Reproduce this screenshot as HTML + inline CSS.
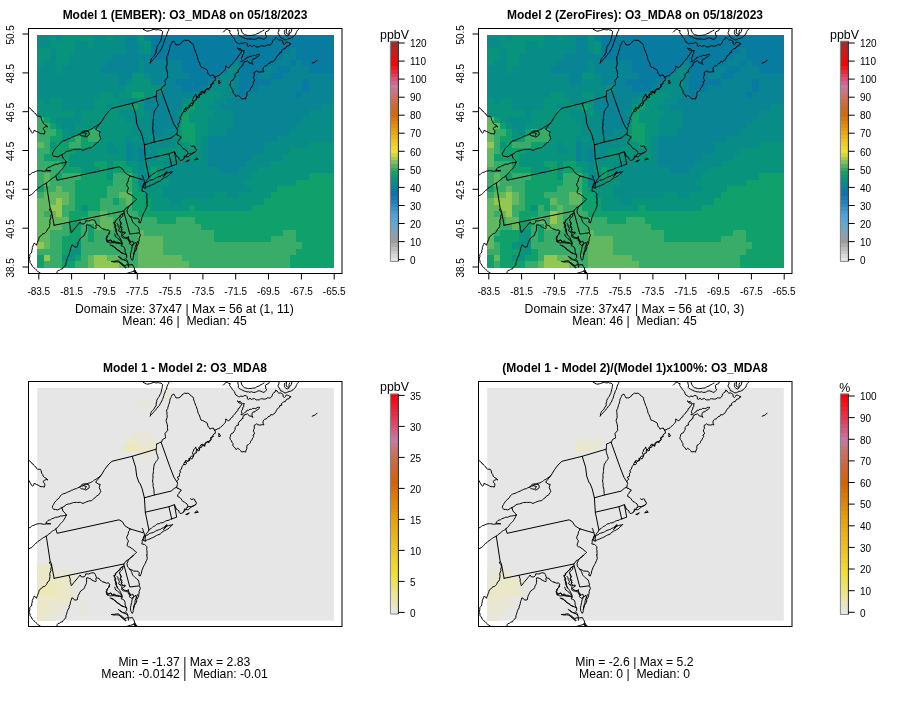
<!DOCTYPE html>
<html><head><meta charset="utf-8"><title>O3_MDA8 model comparison</title>
<style>
html,body{margin:0;padding:0;background:#fff;}
svg{display:block;font-family:"Liberation Sans",sans-serif;}
</style></head><body>
<svg width="900" height="706" viewBox="0 0 900 706">
<rect width="900" height="706" fill="#fff"/>
<g shape-rendering="crispEdges"><rect x="37.20" y="35.00" width="12.92" height="6.59" fill="#088c88"/><rect x="49.82" y="35.00" width="6.61" height="6.59" fill="#08947c"/><rect x="56.13" y="35.00" width="6.61" height="6.59" fill="#088c88"/><rect x="62.44" y="35.00" width="31.85" height="6.59" fill="#08947c"/><rect x="94.00" y="35.00" width="12.92" height="6.59" fill="#088c88"/><rect x="106.62" y="35.00" width="6.61" height="6.59" fill="#08947c"/><rect x="112.93" y="35.00" width="12.92" height="6.59" fill="#088c88"/><rect x="125.55" y="35.00" width="12.92" height="6.59" fill="#088494"/><rect x="138.17" y="35.00" width="6.61" height="6.59" fill="#08947c"/><rect x="144.48" y="35.00" width="6.61" height="6.59" fill="#088494"/><rect x="150.79" y="35.00" width="183.31" height="6.59" fill="#087ca0"/><rect x="37.20" y="41.29" width="12.92" height="6.59" fill="#088c88"/><rect x="49.82" y="41.29" width="25.54" height="6.59" fill="#08947c"/><rect x="75.06" y="41.29" width="12.92" height="6.59" fill="#088c88"/><rect x="87.69" y="41.29" width="6.61" height="6.59" fill="#08947c"/><rect x="94.00" y="41.29" width="31.85" height="6.59" fill="#088c88"/><rect x="125.55" y="41.29" width="12.92" height="6.59" fill="#088494"/><rect x="138.17" y="41.29" width="6.61" height="6.59" fill="#088c88"/><rect x="144.48" y="41.29" width="6.61" height="6.59" fill="#08947c"/><rect x="150.79" y="41.29" width="183.31" height="6.59" fill="#087ca0"/><rect x="37.20" y="47.57" width="12.92" height="6.59" fill="#08947c"/><rect x="49.82" y="47.57" width="6.61" height="6.59" fill="#088c88"/><rect x="56.13" y="47.57" width="19.23" height="6.59" fill="#08947c"/><rect x="75.06" y="47.57" width="50.79" height="6.59" fill="#088c88"/><rect x="125.55" y="47.57" width="12.92" height="6.59" fill="#088494"/><rect x="138.17" y="47.57" width="6.61" height="6.59" fill="#088c88"/><rect x="144.48" y="47.57" width="6.61" height="6.59" fill="#08947c"/><rect x="150.79" y="47.57" width="139.13" height="6.59" fill="#087ca0"/><rect x="289.63" y="47.57" width="6.61" height="6.59" fill="#088494"/><rect x="295.94" y="47.57" width="38.16" height="6.59" fill="#087ca0"/><rect x="37.20" y="53.86" width="12.92" height="6.59" fill="#08947c"/><rect x="49.82" y="53.86" width="6.61" height="6.59" fill="#088c88"/><rect x="56.13" y="53.86" width="12.92" height="6.59" fill="#08947c"/><rect x="68.75" y="53.86" width="44.47" height="6.59" fill="#088c88"/><rect x="112.93" y="53.86" width="38.16" height="6.59" fill="#088494"/><rect x="150.79" y="53.86" width="132.82" height="6.59" fill="#087ca0"/><rect x="283.31" y="53.86" width="12.92" height="6.59" fill="#088494"/><rect x="295.94" y="53.86" width="38.16" height="6.59" fill="#087ca0"/><rect x="37.20" y="60.15" width="6.61" height="6.59" fill="#08947c"/><rect x="43.51" y="60.15" width="12.92" height="6.59" fill="#088c88"/><rect x="56.13" y="60.15" width="12.92" height="6.59" fill="#08947c"/><rect x="68.75" y="60.15" width="38.16" height="6.59" fill="#088c88"/><rect x="106.62" y="60.15" width="31.85" height="6.59" fill="#088494"/><rect x="138.17" y="60.15" width="6.61" height="6.59" fill="#088c88"/><rect x="144.48" y="60.15" width="38.16" height="6.59" fill="#088494"/><rect x="182.34" y="60.15" width="50.79" height="6.59" fill="#087ca0"/><rect x="232.83" y="60.15" width="6.61" height="6.59" fill="#088494"/><rect x="239.14" y="60.15" width="38.16" height="6.59" fill="#087ca0"/><rect x="277.00" y="60.15" width="12.92" height="6.59" fill="#088494"/><rect x="289.63" y="60.15" width="6.61" height="6.59" fill="#087ca0"/><rect x="295.94" y="60.15" width="6.61" height="6.59" fill="#088494"/><rect x="302.25" y="60.15" width="31.85" height="6.59" fill="#087ca0"/><rect x="37.20" y="66.43" width="19.23" height="6.59" fill="#088c88"/><rect x="56.13" y="66.43" width="6.61" height="6.59" fill="#08947c"/><rect x="62.44" y="66.43" width="38.16" height="6.59" fill="#088c88"/><rect x="100.31" y="66.43" width="38.16" height="6.59" fill="#088494"/><rect x="138.17" y="66.43" width="6.61" height="6.59" fill="#088c88"/><rect x="144.48" y="66.43" width="38.16" height="6.59" fill="#088494"/><rect x="182.34" y="66.43" width="44.47" height="6.59" fill="#087ca0"/><rect x="226.52" y="66.43" width="12.92" height="6.59" fill="#088c88"/><rect x="239.14" y="66.43" width="25.54" height="6.59" fill="#087ca0"/><rect x="264.38" y="66.43" width="12.92" height="6.59" fill="#088494"/><rect x="277.00" y="66.43" width="12.92" height="6.59" fill="#087ca0"/><rect x="289.63" y="66.43" width="19.23" height="6.59" fill="#088494"/><rect x="308.56" y="66.43" width="25.54" height="6.59" fill="#087ca0"/><rect x="37.20" y="72.72" width="82.34" height="6.59" fill="#088c88"/><rect x="119.24" y="72.72" width="12.92" height="6.59" fill="#088494"/><rect x="131.86" y="72.72" width="12.92" height="6.59" fill="#08947c"/><rect x="144.48" y="72.72" width="6.61" height="6.59" fill="#088c88"/><rect x="150.79" y="72.72" width="38.16" height="6.59" fill="#088494"/><rect x="188.66" y="72.72" width="31.85" height="6.59" fill="#087ca0"/><rect x="220.21" y="72.72" width="12.92" height="6.59" fill="#088c88"/><rect x="232.83" y="72.72" width="6.61" height="6.59" fill="#088494"/><rect x="239.14" y="72.72" width="19.23" height="6.59" fill="#087ca0"/><rect x="258.07" y="72.72" width="12.92" height="6.59" fill="#088494"/><rect x="270.69" y="72.72" width="12.92" height="6.59" fill="#087ca0"/><rect x="283.31" y="72.72" width="50.79" height="6.59" fill="#088494"/><rect x="37.20" y="79.01" width="82.34" height="6.59" fill="#088c88"/><rect x="119.24" y="79.01" width="6.61" height="6.59" fill="#088494"/><rect x="125.55" y="79.01" width="6.61" height="6.59" fill="#088c88"/><rect x="131.86" y="79.01" width="19.23" height="6.59" fill="#08947c"/><rect x="150.79" y="79.01" width="25.54" height="6.59" fill="#088494"/><rect x="176.03" y="79.01" width="31.85" height="6.59" fill="#087ca0"/><rect x="207.59" y="79.01" width="6.61" height="6.59" fill="#088494"/><rect x="213.90" y="79.01" width="19.23" height="6.59" fill="#088c88"/><rect x="232.83" y="79.01" width="6.61" height="6.59" fill="#088494"/><rect x="239.14" y="79.01" width="31.85" height="6.59" fill="#087ca0"/><rect x="270.69" y="79.01" width="31.85" height="6.59" fill="#088494"/><rect x="302.25" y="79.01" width="6.61" height="6.59" fill="#087ca0"/><rect x="308.56" y="79.01" width="25.54" height="6.59" fill="#088494"/><rect x="37.20" y="85.29" width="88.65" height="6.59" fill="#088c88"/><rect x="125.55" y="85.29" width="38.16" height="6.59" fill="#08947c"/><rect x="163.41" y="85.29" width="19.23" height="6.59" fill="#088494"/><rect x="182.34" y="85.29" width="19.23" height="6.59" fill="#087ca0"/><rect x="201.28" y="85.29" width="6.61" height="6.59" fill="#088494"/><rect x="207.59" y="85.29" width="25.54" height="6.59" fill="#088c88"/><rect x="232.83" y="85.29" width="6.61" height="6.59" fill="#088494"/><rect x="239.14" y="85.29" width="19.23" height="6.59" fill="#087ca0"/><rect x="258.07" y="85.29" width="44.47" height="6.59" fill="#088494"/><rect x="302.25" y="85.29" width="6.61" height="6.59" fill="#087ca0"/><rect x="308.56" y="85.29" width="25.54" height="6.59" fill="#088494"/><rect x="37.20" y="91.58" width="63.41" height="6.59" fill="#088c88"/><rect x="100.31" y="91.58" width="12.92" height="6.59" fill="#08947c"/><rect x="112.93" y="91.58" width="6.61" height="6.59" fill="#088c88"/><rect x="119.24" y="91.58" width="12.92" height="6.59" fill="#08947c"/><rect x="131.86" y="91.58" width="12.92" height="6.59" fill="#10a06c"/><rect x="144.48" y="91.58" width="12.92" height="6.59" fill="#08947c"/><rect x="157.10" y="91.58" width="38.16" height="6.59" fill="#088494"/><rect x="194.97" y="91.58" width="6.61" height="6.59" fill="#088c88"/><rect x="201.28" y="91.58" width="19.23" height="6.59" fill="#08947c"/><rect x="220.21" y="91.58" width="12.92" height="6.59" fill="#088c88"/><rect x="232.83" y="91.58" width="6.61" height="6.59" fill="#088494"/><rect x="239.14" y="91.58" width="6.61" height="6.59" fill="#087ca0"/><rect x="245.45" y="91.58" width="50.79" height="6.59" fill="#088494"/><rect x="295.94" y="91.58" width="6.61" height="6.59" fill="#087ca0"/><rect x="302.25" y="91.58" width="31.85" height="6.59" fill="#088494"/><rect x="37.20" y="97.86" width="6.61" height="6.59" fill="#08947c"/><rect x="43.51" y="97.86" width="6.61" height="6.59" fill="#088c88"/><rect x="49.82" y="97.86" width="12.92" height="6.59" fill="#08947c"/><rect x="62.44" y="97.86" width="31.85" height="6.59" fill="#088c88"/><rect x="94.00" y="97.86" width="25.54" height="6.59" fill="#08947c"/><rect x="119.24" y="97.86" width="19.23" height="6.59" fill="#088c88"/><rect x="138.17" y="97.86" width="6.61" height="6.59" fill="#08947c"/><rect x="144.48" y="97.86" width="38.16" height="6.59" fill="#088494"/><rect x="182.34" y="97.86" width="6.61" height="6.59" fill="#088c88"/><rect x="188.66" y="97.86" width="25.54" height="6.59" fill="#08947c"/><rect x="213.90" y="97.86" width="12.92" height="6.59" fill="#088c88"/><rect x="226.52" y="97.86" width="107.58" height="6.59" fill="#088494"/><rect x="37.20" y="104.15" width="25.54" height="6.59" fill="#08947c"/><rect x="62.44" y="104.15" width="31.85" height="6.59" fill="#088c88"/><rect x="94.00" y="104.15" width="12.92" height="6.59" fill="#08947c"/><rect x="106.62" y="104.15" width="6.61" height="6.59" fill="#088c88"/><rect x="112.93" y="104.15" width="19.23" height="6.59" fill="#08947c"/><rect x="131.86" y="104.15" width="6.61" height="6.59" fill="#10a06c"/><rect x="138.17" y="104.15" width="6.61" height="6.59" fill="#08947c"/><rect x="144.48" y="104.15" width="38.16" height="6.59" fill="#088494"/><rect x="182.34" y="104.15" width="6.61" height="6.59" fill="#08947c"/><rect x="188.66" y="104.15" width="6.61" height="6.59" fill="#10a06c"/><rect x="194.97" y="104.15" width="12.92" height="6.59" fill="#08947c"/><rect x="207.59" y="104.15" width="12.92" height="6.59" fill="#088c88"/><rect x="220.21" y="104.15" width="101.27" height="6.59" fill="#088494"/><rect x="321.18" y="104.15" width="12.92" height="6.59" fill="#088c88"/><rect x="37.20" y="110.44" width="38.16" height="6.59" fill="#08947c"/><rect x="75.06" y="110.44" width="6.61" height="6.59" fill="#088c88"/><rect x="81.37" y="110.44" width="38.16" height="6.59" fill="#08947c"/><rect x="119.24" y="110.44" width="19.23" height="6.59" fill="#088c88"/><rect x="138.17" y="110.44" width="6.61" height="6.59" fill="#08947c"/><rect x="144.48" y="110.44" width="6.61" height="6.59" fill="#088c88"/><rect x="150.79" y="110.44" width="25.54" height="6.59" fill="#088494"/><rect x="176.03" y="110.44" width="6.61" height="6.59" fill="#088c88"/><rect x="182.34" y="110.44" width="6.61" height="6.59" fill="#10a06c"/><rect x="188.66" y="110.44" width="25.54" height="6.59" fill="#08947c"/><rect x="213.90" y="110.44" width="19.23" height="6.59" fill="#088c88"/><rect x="232.83" y="110.44" width="76.03" height="6.59" fill="#088494"/><rect x="308.56" y="110.44" width="25.54" height="6.59" fill="#088c88"/><rect x="37.20" y="116.72" width="6.61" height="6.59" fill="#38ac68"/><rect x="43.51" y="116.72" width="6.61" height="6.59" fill="#10a06c"/><rect x="49.82" y="116.72" width="6.61" height="6.59" fill="#08947c"/><rect x="56.13" y="116.72" width="25.54" height="6.59" fill="#088c88"/><rect x="81.37" y="116.72" width="44.47" height="6.59" fill="#08947c"/><rect x="125.55" y="116.72" width="25.54" height="6.59" fill="#088c88"/><rect x="150.79" y="116.72" width="31.85" height="6.59" fill="#088494"/><rect x="182.34" y="116.72" width="6.61" height="6.59" fill="#10a06c"/><rect x="188.66" y="116.72" width="19.23" height="6.59" fill="#08947c"/><rect x="207.59" y="116.72" width="25.54" height="6.59" fill="#088c88"/><rect x="232.83" y="116.72" width="69.72" height="6.59" fill="#088494"/><rect x="302.25" y="116.72" width="31.85" height="6.59" fill="#088c88"/><rect x="37.20" y="123.01" width="12.92" height="6.59" fill="#38ac68"/><rect x="49.82" y="123.01" width="6.61" height="6.59" fill="#10a06c"/><rect x="56.13" y="123.01" width="6.61" height="6.59" fill="#08947c"/><rect x="62.44" y="123.01" width="12.92" height="6.59" fill="#088c88"/><rect x="75.06" y="123.01" width="57.10" height="6.59" fill="#08947c"/><rect x="131.86" y="123.01" width="19.23" height="6.59" fill="#088c88"/><rect x="150.79" y="123.01" width="25.54" height="6.59" fill="#088494"/><rect x="176.03" y="123.01" width="6.61" height="6.59" fill="#08947c"/><rect x="182.34" y="123.01" width="12.92" height="6.59" fill="#10a06c"/><rect x="194.97" y="123.01" width="12.92" height="6.59" fill="#08947c"/><rect x="207.59" y="123.01" width="25.54" height="6.59" fill="#088c88"/><rect x="232.83" y="123.01" width="63.41" height="6.59" fill="#088494"/><rect x="295.94" y="123.01" width="38.16" height="6.59" fill="#088c88"/><rect x="37.20" y="129.30" width="19.23" height="6.59" fill="#38ac68"/><rect x="56.13" y="129.30" width="6.61" height="6.59" fill="#10a06c"/><rect x="62.44" y="129.30" width="6.61" height="6.59" fill="#08947c"/><rect x="68.75" y="129.30" width="6.61" height="6.59" fill="#088c88"/><rect x="75.06" y="129.30" width="6.61" height="6.59" fill="#08947c"/><rect x="81.37" y="129.30" width="6.61" height="6.59" fill="#10a06c"/><rect x="87.69" y="129.30" width="12.92" height="6.59" fill="#38ac68"/><rect x="100.31" y="129.30" width="31.85" height="6.59" fill="#08947c"/><rect x="131.86" y="129.30" width="19.23" height="6.59" fill="#088c88"/><rect x="150.79" y="129.30" width="12.92" height="6.59" fill="#088494"/><rect x="163.41" y="129.30" width="12.92" height="6.59" fill="#088c88"/><rect x="176.03" y="129.30" width="6.61" height="6.59" fill="#08947c"/><rect x="182.34" y="129.30" width="12.92" height="6.59" fill="#10a06c"/><rect x="194.97" y="129.30" width="12.92" height="6.59" fill="#08947c"/><rect x="207.59" y="129.30" width="19.23" height="6.59" fill="#088c88"/><rect x="226.52" y="129.30" width="63.41" height="6.59" fill="#088494"/><rect x="289.63" y="129.30" width="44.47" height="6.59" fill="#088c88"/><rect x="37.20" y="135.58" width="12.92" height="6.59" fill="#38ac68"/><rect x="49.82" y="135.58" width="12.92" height="6.59" fill="#10a06c"/><rect x="62.44" y="135.58" width="6.61" height="6.59" fill="#08947c"/><rect x="68.75" y="135.58" width="6.61" height="6.59" fill="#10a06c"/><rect x="75.06" y="135.58" width="6.61" height="6.59" fill="#38ac68"/><rect x="81.37" y="135.58" width="6.61" height="6.59" fill="#10a06c"/><rect x="87.69" y="135.58" width="12.92" height="6.59" fill="#38ac68"/><rect x="100.31" y="135.58" width="25.54" height="6.59" fill="#08947c"/><rect x="125.55" y="135.58" width="6.61" height="6.59" fill="#088c88"/><rect x="131.86" y="135.58" width="6.61" height="6.59" fill="#08947c"/><rect x="138.17" y="135.58" width="38.16" height="6.59" fill="#088c88"/><rect x="176.03" y="135.58" width="6.61" height="6.59" fill="#08947c"/><rect x="182.34" y="135.58" width="12.92" height="6.59" fill="#10a06c"/><rect x="194.97" y="135.58" width="6.61" height="6.59" fill="#08947c"/><rect x="201.28" y="135.58" width="6.61" height="6.59" fill="#088c88"/><rect x="207.59" y="135.58" width="69.72" height="6.59" fill="#088494"/><rect x="277.00" y="135.58" width="57.10" height="6.59" fill="#088c88"/><rect x="37.20" y="141.87" width="6.61" height="6.59" fill="#62b860"/><rect x="43.51" y="141.87" width="6.61" height="6.59" fill="#38ac68"/><rect x="49.82" y="141.87" width="6.61" height="6.59" fill="#08947c"/><rect x="56.13" y="141.87" width="12.92" height="6.59" fill="#10a06c"/><rect x="68.75" y="141.87" width="12.92" height="6.59" fill="#38ac68"/><rect x="81.37" y="141.87" width="12.92" height="6.59" fill="#10a06c"/><rect x="94.00" y="141.87" width="12.92" height="6.59" fill="#08947c"/><rect x="106.62" y="141.87" width="6.61" height="6.59" fill="#088c88"/><rect x="112.93" y="141.87" width="12.92" height="6.59" fill="#08947c"/><rect x="125.55" y="141.87" width="6.61" height="6.59" fill="#088494"/><rect x="131.86" y="141.87" width="44.47" height="6.59" fill="#088c88"/><rect x="176.03" y="141.87" width="12.92" height="6.59" fill="#08947c"/><rect x="188.66" y="141.87" width="6.61" height="6.59" fill="#10a06c"/><rect x="194.97" y="141.87" width="6.61" height="6.59" fill="#08947c"/><rect x="201.28" y="141.87" width="6.61" height="6.59" fill="#088c88"/><rect x="207.59" y="141.87" width="57.10" height="6.59" fill="#088494"/><rect x="264.38" y="141.87" width="44.47" height="6.59" fill="#088c88"/><rect x="308.56" y="141.87" width="25.54" height="6.59" fill="#08947c"/><rect x="37.20" y="148.16" width="12.92" height="6.59" fill="#38ac68"/><rect x="49.82" y="148.16" width="25.54" height="6.59" fill="#10a06c"/><rect x="75.06" y="148.16" width="31.85" height="6.59" fill="#08947c"/><rect x="106.62" y="148.16" width="12.92" height="6.59" fill="#088c88"/><rect x="119.24" y="148.16" width="6.61" height="6.59" fill="#08947c"/><rect x="125.55" y="148.16" width="6.61" height="6.59" fill="#088494"/><rect x="131.86" y="148.16" width="6.61" height="6.59" fill="#088c88"/><rect x="138.17" y="148.16" width="6.61" height="6.59" fill="#088494"/><rect x="144.48" y="148.16" width="12.92" height="6.59" fill="#088c88"/><rect x="157.10" y="148.16" width="44.47" height="6.59" fill="#08947c"/><rect x="201.28" y="148.16" width="6.61" height="6.59" fill="#088c88"/><rect x="207.59" y="148.16" width="57.10" height="6.59" fill="#088494"/><rect x="264.38" y="148.16" width="25.54" height="6.59" fill="#088c88"/><rect x="289.63" y="148.16" width="44.47" height="6.59" fill="#08947c"/><rect x="37.20" y="154.44" width="6.61" height="6.59" fill="#38ac68"/><rect x="43.51" y="154.44" width="25.54" height="6.59" fill="#10a06c"/><rect x="68.75" y="154.44" width="57.10" height="6.59" fill="#08947c"/><rect x="125.55" y="154.44" width="6.61" height="6.59" fill="#088494"/><rect x="131.86" y="154.44" width="6.61" height="6.59" fill="#088c88"/><rect x="138.17" y="154.44" width="6.61" height="6.59" fill="#088494"/><rect x="144.48" y="154.44" width="12.92" height="6.59" fill="#088c88"/><rect x="157.10" y="154.44" width="44.47" height="6.59" fill="#08947c"/><rect x="201.28" y="154.44" width="6.61" height="6.59" fill="#088c88"/><rect x="207.59" y="154.44" width="44.47" height="6.59" fill="#088494"/><rect x="251.76" y="154.44" width="31.85" height="6.59" fill="#088c88"/><rect x="283.31" y="154.44" width="50.79" height="6.59" fill="#08947c"/><rect x="37.20" y="160.73" width="25.54" height="6.59" fill="#38ac68"/><rect x="62.44" y="160.73" width="6.61" height="6.59" fill="#10a06c"/><rect x="68.75" y="160.73" width="25.54" height="6.59" fill="#08947c"/><rect x="94.00" y="160.73" width="12.92" height="6.59" fill="#10a06c"/><rect x="106.62" y="160.73" width="6.61" height="6.59" fill="#08947c"/><rect x="112.93" y="160.73" width="12.92" height="6.59" fill="#10a06c"/><rect x="125.55" y="160.73" width="12.92" height="6.59" fill="#08947c"/><rect x="138.17" y="160.73" width="6.61" height="6.59" fill="#088c88"/><rect x="144.48" y="160.73" width="19.23" height="6.59" fill="#08947c"/><rect x="163.41" y="160.73" width="44.47" height="6.59" fill="#088c88"/><rect x="207.59" y="160.73" width="38.16" height="6.59" fill="#088494"/><rect x="245.45" y="160.73" width="25.54" height="6.59" fill="#088c88"/><rect x="270.69" y="160.73" width="63.41" height="6.59" fill="#08947c"/><rect x="37.20" y="167.02" width="25.54" height="6.59" fill="#38ac68"/><rect x="62.44" y="167.02" width="19.23" height="6.59" fill="#10a06c"/><rect x="81.37" y="167.02" width="19.23" height="6.59" fill="#08947c"/><rect x="100.31" y="167.02" width="6.61" height="6.59" fill="#10a06c"/><rect x="106.62" y="167.02" width="6.61" height="6.59" fill="#08947c"/><rect x="112.93" y="167.02" width="19.23" height="6.59" fill="#10a06c"/><rect x="131.86" y="167.02" width="6.61" height="6.59" fill="#08947c"/><rect x="138.17" y="167.02" width="6.61" height="6.59" fill="#088c88"/><rect x="144.48" y="167.02" width="6.61" height="6.59" fill="#08947c"/><rect x="150.79" y="167.02" width="6.61" height="6.59" fill="#10a06c"/><rect x="157.10" y="167.02" width="6.61" height="6.59" fill="#08947c"/><rect x="163.41" y="167.02" width="57.10" height="6.59" fill="#088c88"/><rect x="220.21" y="167.02" width="19.23" height="6.59" fill="#088494"/><rect x="239.14" y="167.02" width="19.23" height="6.59" fill="#088c88"/><rect x="258.07" y="167.02" width="76.03" height="6.59" fill="#08947c"/><rect x="37.20" y="173.30" width="6.61" height="6.59" fill="#38ac68"/><rect x="43.51" y="173.30" width="6.61" height="6.59" fill="#62b860"/><rect x="49.82" y="173.30" width="6.61" height="6.59" fill="#38ac68"/><rect x="56.13" y="173.30" width="6.61" height="6.59" fill="#10a06c"/><rect x="62.44" y="173.30" width="19.23" height="6.59" fill="#38ac68"/><rect x="81.37" y="173.30" width="25.54" height="6.59" fill="#10a06c"/><rect x="106.62" y="173.30" width="6.61" height="6.59" fill="#08947c"/><rect x="112.93" y="173.30" width="19.23" height="6.59" fill="#38ac68"/><rect x="131.86" y="173.30" width="6.61" height="6.59" fill="#10a06c"/><rect x="138.17" y="173.30" width="12.92" height="6.59" fill="#088c88"/><rect x="150.79" y="173.30" width="6.61" height="6.59" fill="#10a06c"/><rect x="157.10" y="173.30" width="12.92" height="6.59" fill="#08947c"/><rect x="169.72" y="173.30" width="82.34" height="6.59" fill="#088c88"/><rect x="251.76" y="173.30" width="57.10" height="6.59" fill="#08947c"/><rect x="308.56" y="173.30" width="25.54" height="6.59" fill="#10a06c"/><rect x="37.20" y="179.59" width="6.61" height="6.59" fill="#38ac68"/><rect x="43.51" y="179.59" width="6.61" height="6.59" fill="#62b860"/><rect x="49.82" y="179.59" width="25.54" height="6.59" fill="#38ac68"/><rect x="75.06" y="179.59" width="38.16" height="6.59" fill="#10a06c"/><rect x="112.93" y="179.59" width="19.23" height="6.59" fill="#38ac68"/><rect x="131.86" y="179.59" width="6.61" height="6.59" fill="#10a06c"/><rect x="138.17" y="179.59" width="6.61" height="6.59" fill="#088494"/><rect x="144.48" y="179.59" width="25.54" height="6.59" fill="#08947c"/><rect x="169.72" y="179.59" width="76.03" height="6.59" fill="#088c88"/><rect x="245.45" y="179.59" width="50.79" height="6.59" fill="#08947c"/><rect x="295.94" y="179.59" width="38.16" height="6.59" fill="#10a06c"/><rect x="37.20" y="185.88" width="6.61" height="6.59" fill="#10a06c"/><rect x="43.51" y="185.88" width="12.92" height="6.59" fill="#38ac68"/><rect x="56.13" y="185.88" width="6.61" height="6.59" fill="#62b860"/><rect x="62.44" y="185.88" width="12.92" height="6.59" fill="#38ac68"/><rect x="75.06" y="185.88" width="31.85" height="6.59" fill="#10a06c"/><rect x="106.62" y="185.88" width="25.54" height="6.59" fill="#38ac68"/><rect x="131.86" y="185.88" width="6.61" height="6.59" fill="#10a06c"/><rect x="138.17" y="185.88" width="25.54" height="6.59" fill="#08947c"/><rect x="163.41" y="185.88" width="88.65" height="6.59" fill="#088c88"/><rect x="251.76" y="185.88" width="25.54" height="6.59" fill="#08947c"/><rect x="277.00" y="185.88" width="57.10" height="6.59" fill="#10a06c"/><rect x="37.20" y="192.16" width="6.61" height="6.59" fill="#38ac68"/><rect x="43.51" y="192.16" width="25.54" height="6.59" fill="#62b860"/><rect x="68.75" y="192.16" width="6.61" height="6.59" fill="#38ac68"/><rect x="75.06" y="192.16" width="31.85" height="6.59" fill="#10a06c"/><rect x="106.62" y="192.16" width="12.92" height="6.59" fill="#38ac68"/><rect x="119.24" y="192.16" width="12.92" height="6.59" fill="#62b860"/><rect x="131.86" y="192.16" width="12.92" height="6.59" fill="#10a06c"/><rect x="144.48" y="192.16" width="19.23" height="6.59" fill="#08947c"/><rect x="163.41" y="192.16" width="50.79" height="6.59" fill="#088c88"/><rect x="213.90" y="192.16" width="12.92" height="6.59" fill="#08947c"/><rect x="226.52" y="192.16" width="12.92" height="6.59" fill="#088c88"/><rect x="239.14" y="192.16" width="31.85" height="6.59" fill="#08947c"/><rect x="270.69" y="192.16" width="63.41" height="6.59" fill="#10a06c"/><rect x="37.20" y="198.45" width="19.23" height="6.59" fill="#62b860"/><rect x="56.13" y="198.45" width="6.61" height="6.59" fill="#90c850"/><rect x="62.44" y="198.45" width="6.61" height="6.59" fill="#62b860"/><rect x="68.75" y="198.45" width="6.61" height="6.59" fill="#38ac68"/><rect x="75.06" y="198.45" width="25.54" height="6.59" fill="#10a06c"/><rect x="100.31" y="198.45" width="12.92" height="6.59" fill="#38ac68"/><rect x="112.93" y="198.45" width="6.61" height="6.59" fill="#10a06c"/><rect x="119.24" y="198.45" width="6.61" height="6.59" fill="#38ac68"/><rect x="125.55" y="198.45" width="6.61" height="6.59" fill="#62b860"/><rect x="131.86" y="198.45" width="19.23" height="6.59" fill="#10a06c"/><rect x="150.79" y="198.45" width="19.23" height="6.59" fill="#08947c"/><rect x="169.72" y="198.45" width="12.92" height="6.59" fill="#088c88"/><rect x="182.34" y="198.45" width="82.34" height="6.59" fill="#08947c"/><rect x="264.38" y="198.45" width="69.72" height="6.59" fill="#10a06c"/><rect x="37.20" y="204.74" width="12.92" height="6.59" fill="#62b860"/><rect x="49.82" y="204.74" width="12.92" height="6.59" fill="#90c850"/><rect x="62.44" y="204.74" width="12.92" height="6.59" fill="#38ac68"/><rect x="75.06" y="204.74" width="6.61" height="6.59" fill="#10a06c"/><rect x="81.37" y="204.74" width="6.61" height="6.59" fill="#08947c"/><rect x="87.69" y="204.74" width="12.92" height="6.59" fill="#10a06c"/><rect x="100.31" y="204.74" width="31.85" height="6.59" fill="#38ac68"/><rect x="131.86" y="204.74" width="19.23" height="6.59" fill="#10a06c"/><rect x="150.79" y="204.74" width="38.16" height="6.59" fill="#08947c"/><rect x="188.66" y="204.74" width="6.61" height="6.59" fill="#10a06c"/><rect x="194.97" y="204.74" width="57.10" height="6.59" fill="#08947c"/><rect x="251.76" y="204.74" width="82.34" height="6.59" fill="#10a06c"/><rect x="37.20" y="211.02" width="6.61" height="6.59" fill="#62b860"/><rect x="43.51" y="211.02" width="6.61" height="6.59" fill="#38ac68"/><rect x="49.82" y="211.02" width="6.61" height="6.59" fill="#62b860"/><rect x="56.13" y="211.02" width="6.61" height="6.59" fill="#90c850"/><rect x="62.44" y="211.02" width="6.61" height="6.59" fill="#38ac68"/><rect x="68.75" y="211.02" width="19.23" height="6.59" fill="#10a06c"/><rect x="87.69" y="211.02" width="12.92" height="6.59" fill="#38ac68"/><rect x="100.31" y="211.02" width="6.61" height="6.59" fill="#62b860"/><rect x="106.62" y="211.02" width="31.85" height="6.59" fill="#38ac68"/><rect x="138.17" y="211.02" width="195.93" height="6.59" fill="#10a06c"/><rect x="37.20" y="217.31" width="31.85" height="6.59" fill="#62b860"/><rect x="68.75" y="217.31" width="12.92" height="6.59" fill="#10a06c"/><rect x="81.37" y="217.31" width="6.61" height="6.59" fill="#38ac68"/><rect x="87.69" y="217.31" width="6.61" height="6.59" fill="#62b860"/><rect x="94.00" y="217.31" width="6.61" height="6.59" fill="#38ac68"/><rect x="100.31" y="217.31" width="12.92" height="6.59" fill="#62b860"/><rect x="112.93" y="217.31" width="44.47" height="6.59" fill="#38ac68"/><rect x="157.10" y="217.31" width="19.23" height="6.59" fill="#10a06c"/><rect x="176.03" y="217.31" width="19.23" height="6.59" fill="#38ac68"/><rect x="194.97" y="217.31" width="139.13" height="6.59" fill="#10a06c"/><rect x="37.20" y="223.59" width="25.54" height="6.59" fill="#62b860"/><rect x="62.44" y="223.59" width="6.61" height="6.59" fill="#38ac68"/><rect x="68.75" y="223.59" width="12.92" height="6.59" fill="#10a06c"/><rect x="81.37" y="223.59" width="6.61" height="6.59" fill="#38ac68"/><rect x="87.69" y="223.59" width="6.61" height="6.59" fill="#10a06c"/><rect x="94.00" y="223.59" width="19.23" height="6.59" fill="#62b860"/><rect x="112.93" y="223.59" width="88.65" height="6.59" fill="#38ac68"/><rect x="201.28" y="223.59" width="132.82" height="6.59" fill="#10a06c"/><rect x="37.20" y="229.88" width="12.92" height="6.59" fill="#62b860"/><rect x="49.82" y="229.88" width="19.23" height="6.59" fill="#38ac68"/><rect x="68.75" y="229.88" width="12.92" height="6.59" fill="#10a06c"/><rect x="81.37" y="229.88" width="6.61" height="6.59" fill="#38ac68"/><rect x="87.69" y="229.88" width="6.61" height="6.59" fill="#10a06c"/><rect x="94.00" y="229.88" width="44.47" height="6.59" fill="#38ac68"/><rect x="138.17" y="229.88" width="6.61" height="6.59" fill="#62b860"/><rect x="144.48" y="229.88" width="69.72" height="6.59" fill="#38ac68"/><rect x="213.90" y="229.88" width="69.72" height="6.59" fill="#10a06c"/><rect x="283.31" y="229.88" width="12.92" height="6.59" fill="#38ac68"/><rect x="295.94" y="229.88" width="38.16" height="6.59" fill="#10a06c"/><rect x="37.20" y="236.17" width="12.92" height="6.59" fill="#62b860"/><rect x="49.82" y="236.17" width="12.92" height="6.59" fill="#38ac68"/><rect x="62.44" y="236.17" width="19.23" height="6.59" fill="#10a06c"/><rect x="81.37" y="236.17" width="6.61" height="6.59" fill="#38ac68"/><rect x="87.69" y="236.17" width="6.61" height="6.59" fill="#10a06c"/><rect x="94.00" y="236.17" width="44.47" height="6.59" fill="#38ac68"/><rect x="138.17" y="236.17" width="25.54" height="6.59" fill="#62b860"/><rect x="163.41" y="236.17" width="50.79" height="6.59" fill="#38ac68"/><rect x="213.90" y="236.17" width="57.10" height="6.59" fill="#10a06c"/><rect x="270.69" y="236.17" width="25.54" height="6.59" fill="#38ac68"/><rect x="295.94" y="236.17" width="38.16" height="6.59" fill="#10a06c"/><rect x="37.20" y="242.45" width="6.61" height="6.59" fill="#90c850"/><rect x="43.51" y="242.45" width="6.61" height="6.59" fill="#62b860"/><rect x="49.82" y="242.45" width="12.92" height="6.59" fill="#38ac68"/><rect x="62.44" y="242.45" width="12.92" height="6.59" fill="#10a06c"/><rect x="75.06" y="242.45" width="6.61" height="6.59" fill="#08947c"/><rect x="81.37" y="242.45" width="57.10" height="6.59" fill="#38ac68"/><rect x="138.17" y="242.45" width="25.54" height="6.59" fill="#62b860"/><rect x="163.41" y="242.45" width="139.13" height="6.59" fill="#38ac68"/><rect x="302.25" y="242.45" width="31.85" height="6.59" fill="#10a06c"/><rect x="37.20" y="248.74" width="25.54" height="6.59" fill="#38ac68"/><rect x="62.44" y="248.74" width="6.61" height="6.59" fill="#10a06c"/><rect x="68.75" y="248.74" width="12.92" height="6.59" fill="#08947c"/><rect x="81.37" y="248.74" width="57.10" height="6.59" fill="#38ac68"/><rect x="138.17" y="248.74" width="25.54" height="6.59" fill="#62b860"/><rect x="163.41" y="248.74" width="132.82" height="6.59" fill="#38ac68"/><rect x="295.94" y="248.74" width="38.16" height="6.59" fill="#10a06c"/><rect x="37.20" y="255.03" width="6.61" height="6.59" fill="#10a06c"/><rect x="43.51" y="255.03" width="6.61" height="6.59" fill="#90c850"/><rect x="49.82" y="255.03" width="12.92" height="6.59" fill="#38ac68"/><rect x="62.44" y="255.03" width="12.92" height="6.59" fill="#08947c"/><rect x="75.06" y="255.03" width="6.61" height="6.59" fill="#10a06c"/><rect x="81.37" y="255.03" width="6.61" height="6.59" fill="#38ac68"/><rect x="87.69" y="255.03" width="6.61" height="6.59" fill="#62b860"/><rect x="94.00" y="255.03" width="12.92" height="6.59" fill="#90c850"/><rect x="106.62" y="255.03" width="12.92" height="6.59" fill="#62b860"/><rect x="119.24" y="255.03" width="19.23" height="6.59" fill="#38ac68"/><rect x="138.17" y="255.03" width="44.47" height="6.59" fill="#62b860"/><rect x="182.34" y="255.03" width="107.58" height="6.59" fill="#38ac68"/><rect x="289.63" y="255.03" width="44.47" height="6.59" fill="#10a06c"/><rect x="37.20" y="261.31" width="6.61" height="6.59" fill="#10a06c"/><rect x="43.51" y="261.31" width="19.23" height="6.59" fill="#38ac68"/><rect x="62.44" y="261.31" width="12.92" height="6.59" fill="#10a06c"/><rect x="75.06" y="261.31" width="12.92" height="6.59" fill="#38ac68"/><rect x="87.69" y="261.31" width="6.61" height="6.59" fill="#62b860"/><rect x="94.00" y="261.31" width="25.54" height="6.59" fill="#90c850"/><rect x="119.24" y="261.31" width="6.61" height="6.59" fill="#62b860"/><rect x="125.55" y="261.31" width="12.92" height="6.59" fill="#38ac68"/><rect x="138.17" y="261.31" width="50.79" height="6.59" fill="#62b860"/><rect x="188.66" y="261.31" width="101.27" height="6.59" fill="#38ac68"/><rect x="289.63" y="261.31" width="44.47" height="6.59" fill="#10a06c"/></g>
<g shape-rendering="crispEdges"><rect x="487.20" y="35.00" width="12.92" height="6.59" fill="#088c88"/><rect x="499.82" y="35.00" width="6.61" height="6.59" fill="#08947c"/><rect x="506.13" y="35.00" width="6.61" height="6.59" fill="#088c88"/><rect x="512.44" y="35.00" width="31.85" height="6.59" fill="#08947c"/><rect x="544.00" y="35.00" width="12.92" height="6.59" fill="#088c88"/><rect x="556.62" y="35.00" width="6.61" height="6.59" fill="#08947c"/><rect x="562.93" y="35.00" width="12.92" height="6.59" fill="#088c88"/><rect x="575.55" y="35.00" width="12.92" height="6.59" fill="#088494"/><rect x="588.17" y="35.00" width="6.61" height="6.59" fill="#08947c"/><rect x="594.48" y="35.00" width="6.61" height="6.59" fill="#088494"/><rect x="600.79" y="35.00" width="183.31" height="6.59" fill="#087ca0"/><rect x="487.20" y="41.29" width="12.92" height="6.59" fill="#088c88"/><rect x="499.82" y="41.29" width="25.54" height="6.59" fill="#08947c"/><rect x="525.06" y="41.29" width="12.92" height="6.59" fill="#088c88"/><rect x="537.69" y="41.29" width="6.61" height="6.59" fill="#08947c"/><rect x="544.00" y="41.29" width="31.85" height="6.59" fill="#088c88"/><rect x="575.55" y="41.29" width="12.92" height="6.59" fill="#088494"/><rect x="588.17" y="41.29" width="6.61" height="6.59" fill="#088c88"/><rect x="594.48" y="41.29" width="6.61" height="6.59" fill="#08947c"/><rect x="600.79" y="41.29" width="183.31" height="6.59" fill="#087ca0"/><rect x="487.20" y="47.57" width="12.92" height="6.59" fill="#08947c"/><rect x="499.82" y="47.57" width="6.61" height="6.59" fill="#088c88"/><rect x="506.13" y="47.57" width="19.23" height="6.59" fill="#08947c"/><rect x="525.06" y="47.57" width="50.79" height="6.59" fill="#088c88"/><rect x="575.55" y="47.57" width="12.92" height="6.59" fill="#088494"/><rect x="588.17" y="47.57" width="6.61" height="6.59" fill="#088c88"/><rect x="594.48" y="47.57" width="6.61" height="6.59" fill="#08947c"/><rect x="600.79" y="47.57" width="139.13" height="6.59" fill="#087ca0"/><rect x="739.63" y="47.57" width="6.61" height="6.59" fill="#088494"/><rect x="745.94" y="47.57" width="38.16" height="6.59" fill="#087ca0"/><rect x="487.20" y="53.86" width="12.92" height="6.59" fill="#08947c"/><rect x="499.82" y="53.86" width="6.61" height="6.59" fill="#088c88"/><rect x="506.13" y="53.86" width="12.92" height="6.59" fill="#08947c"/><rect x="518.75" y="53.86" width="44.47" height="6.59" fill="#088c88"/><rect x="562.93" y="53.86" width="38.16" height="6.59" fill="#088494"/><rect x="600.79" y="53.86" width="132.82" height="6.59" fill="#087ca0"/><rect x="733.31" y="53.86" width="12.92" height="6.59" fill="#088494"/><rect x="745.94" y="53.86" width="38.16" height="6.59" fill="#087ca0"/><rect x="487.20" y="60.15" width="6.61" height="6.59" fill="#08947c"/><rect x="493.51" y="60.15" width="12.92" height="6.59" fill="#088c88"/><rect x="506.13" y="60.15" width="12.92" height="6.59" fill="#08947c"/><rect x="518.75" y="60.15" width="38.16" height="6.59" fill="#088c88"/><rect x="556.62" y="60.15" width="31.85" height="6.59" fill="#088494"/><rect x="588.17" y="60.15" width="6.61" height="6.59" fill="#088c88"/><rect x="594.48" y="60.15" width="38.16" height="6.59" fill="#088494"/><rect x="632.34" y="60.15" width="50.79" height="6.59" fill="#087ca0"/><rect x="682.83" y="60.15" width="6.61" height="6.59" fill="#088494"/><rect x="689.14" y="60.15" width="38.16" height="6.59" fill="#087ca0"/><rect x="727.00" y="60.15" width="12.92" height="6.59" fill="#088494"/><rect x="739.63" y="60.15" width="6.61" height="6.59" fill="#087ca0"/><rect x="745.94" y="60.15" width="6.61" height="6.59" fill="#088494"/><rect x="752.25" y="60.15" width="31.85" height="6.59" fill="#087ca0"/><rect x="487.20" y="66.43" width="19.23" height="6.59" fill="#088c88"/><rect x="506.13" y="66.43" width="6.61" height="6.59" fill="#08947c"/><rect x="512.44" y="66.43" width="38.16" height="6.59" fill="#088c88"/><rect x="550.31" y="66.43" width="38.16" height="6.59" fill="#088494"/><rect x="588.17" y="66.43" width="6.61" height="6.59" fill="#088c88"/><rect x="594.48" y="66.43" width="38.16" height="6.59" fill="#088494"/><rect x="632.34" y="66.43" width="44.47" height="6.59" fill="#087ca0"/><rect x="676.52" y="66.43" width="12.92" height="6.59" fill="#088c88"/><rect x="689.14" y="66.43" width="25.54" height="6.59" fill="#087ca0"/><rect x="714.38" y="66.43" width="12.92" height="6.59" fill="#088494"/><rect x="727.00" y="66.43" width="12.92" height="6.59" fill="#087ca0"/><rect x="739.63" y="66.43" width="19.23" height="6.59" fill="#088494"/><rect x="758.56" y="66.43" width="25.54" height="6.59" fill="#087ca0"/><rect x="487.20" y="72.72" width="82.34" height="6.59" fill="#088c88"/><rect x="569.24" y="72.72" width="12.92" height="6.59" fill="#088494"/><rect x="581.86" y="72.72" width="12.92" height="6.59" fill="#08947c"/><rect x="594.48" y="72.72" width="6.61" height="6.59" fill="#088c88"/><rect x="600.79" y="72.72" width="38.16" height="6.59" fill="#088494"/><rect x="638.66" y="72.72" width="31.85" height="6.59" fill="#087ca0"/><rect x="670.21" y="72.72" width="12.92" height="6.59" fill="#088c88"/><rect x="682.83" y="72.72" width="6.61" height="6.59" fill="#088494"/><rect x="689.14" y="72.72" width="19.23" height="6.59" fill="#087ca0"/><rect x="708.07" y="72.72" width="12.92" height="6.59" fill="#088494"/><rect x="720.69" y="72.72" width="12.92" height="6.59" fill="#087ca0"/><rect x="733.31" y="72.72" width="50.79" height="6.59" fill="#088494"/><rect x="487.20" y="79.01" width="82.34" height="6.59" fill="#088c88"/><rect x="569.24" y="79.01" width="12.92" height="6.59" fill="#088494"/><rect x="581.86" y="79.01" width="19.23" height="6.59" fill="#088c88"/><rect x="600.79" y="79.01" width="25.54" height="6.59" fill="#088494"/><rect x="626.03" y="79.01" width="31.85" height="6.59" fill="#087ca0"/><rect x="657.59" y="79.01" width="6.61" height="6.59" fill="#088494"/><rect x="663.90" y="79.01" width="19.23" height="6.59" fill="#088c88"/><rect x="682.83" y="79.01" width="6.61" height="6.59" fill="#088494"/><rect x="689.14" y="79.01" width="31.85" height="6.59" fill="#087ca0"/><rect x="720.69" y="79.01" width="31.85" height="6.59" fill="#088494"/><rect x="752.25" y="79.01" width="6.61" height="6.59" fill="#087ca0"/><rect x="758.56" y="79.01" width="25.54" height="6.59" fill="#088494"/><rect x="487.20" y="85.29" width="120.20" height="6.59" fill="#088c88"/><rect x="607.10" y="85.29" width="6.61" height="6.59" fill="#08947c"/><rect x="613.41" y="85.29" width="19.23" height="6.59" fill="#088494"/><rect x="632.34" y="85.29" width="19.23" height="6.59" fill="#087ca0"/><rect x="651.28" y="85.29" width="6.61" height="6.59" fill="#088494"/><rect x="657.59" y="85.29" width="25.54" height="6.59" fill="#088c88"/><rect x="682.83" y="85.29" width="6.61" height="6.59" fill="#088494"/><rect x="689.14" y="85.29" width="19.23" height="6.59" fill="#087ca0"/><rect x="708.07" y="85.29" width="44.47" height="6.59" fill="#088494"/><rect x="752.25" y="85.29" width="6.61" height="6.59" fill="#087ca0"/><rect x="758.56" y="85.29" width="25.54" height="6.59" fill="#088494"/><rect x="487.20" y="91.58" width="63.41" height="6.59" fill="#088c88"/><rect x="550.31" y="91.58" width="12.92" height="6.59" fill="#08947c"/><rect x="562.93" y="91.58" width="19.23" height="6.59" fill="#088c88"/><rect x="581.86" y="91.58" width="12.92" height="6.59" fill="#08947c"/><rect x="594.48" y="91.58" width="12.92" height="6.59" fill="#088c88"/><rect x="607.10" y="91.58" width="38.16" height="6.59" fill="#088494"/><rect x="644.97" y="91.58" width="6.61" height="6.59" fill="#088c88"/><rect x="651.28" y="91.58" width="19.23" height="6.59" fill="#08947c"/><rect x="670.21" y="91.58" width="12.92" height="6.59" fill="#088c88"/><rect x="682.83" y="91.58" width="6.61" height="6.59" fill="#088494"/><rect x="689.14" y="91.58" width="6.61" height="6.59" fill="#087ca0"/><rect x="695.45" y="91.58" width="50.79" height="6.59" fill="#088494"/><rect x="745.94" y="91.58" width="6.61" height="6.59" fill="#087ca0"/><rect x="752.25" y="91.58" width="31.85" height="6.59" fill="#088494"/><rect x="487.20" y="97.86" width="6.61" height="6.59" fill="#08947c"/><rect x="493.51" y="97.86" width="6.61" height="6.59" fill="#088c88"/><rect x="499.82" y="97.86" width="12.92" height="6.59" fill="#08947c"/><rect x="512.44" y="97.86" width="31.85" height="6.59" fill="#088c88"/><rect x="544.00" y="97.86" width="25.54" height="6.59" fill="#08947c"/><rect x="569.24" y="97.86" width="19.23" height="6.59" fill="#088c88"/><rect x="588.17" y="97.86" width="6.61" height="6.59" fill="#08947c"/><rect x="594.48" y="97.86" width="38.16" height="6.59" fill="#088494"/><rect x="632.34" y="97.86" width="6.61" height="6.59" fill="#088c88"/><rect x="638.66" y="97.86" width="25.54" height="6.59" fill="#08947c"/><rect x="663.90" y="97.86" width="12.92" height="6.59" fill="#088c88"/><rect x="676.52" y="97.86" width="107.58" height="6.59" fill="#088494"/><rect x="487.20" y="104.15" width="25.54" height="6.59" fill="#08947c"/><rect x="512.44" y="104.15" width="31.85" height="6.59" fill="#088c88"/><rect x="544.00" y="104.15" width="12.92" height="6.59" fill="#08947c"/><rect x="556.62" y="104.15" width="6.61" height="6.59" fill="#088c88"/><rect x="562.93" y="104.15" width="19.23" height="6.59" fill="#08947c"/><rect x="581.86" y="104.15" width="6.61" height="6.59" fill="#10a06c"/><rect x="588.17" y="104.15" width="6.61" height="6.59" fill="#08947c"/><rect x="594.48" y="104.15" width="38.16" height="6.59" fill="#088494"/><rect x="632.34" y="104.15" width="6.61" height="6.59" fill="#08947c"/><rect x="638.66" y="104.15" width="6.61" height="6.59" fill="#10a06c"/><rect x="644.97" y="104.15" width="12.92" height="6.59" fill="#08947c"/><rect x="657.59" y="104.15" width="12.92" height="6.59" fill="#088c88"/><rect x="670.21" y="104.15" width="101.27" height="6.59" fill="#088494"/><rect x="771.18" y="104.15" width="12.92" height="6.59" fill="#088c88"/><rect x="487.20" y="110.44" width="38.16" height="6.59" fill="#08947c"/><rect x="525.06" y="110.44" width="6.61" height="6.59" fill="#088c88"/><rect x="531.37" y="110.44" width="38.16" height="6.59" fill="#08947c"/><rect x="569.24" y="110.44" width="19.23" height="6.59" fill="#088c88"/><rect x="588.17" y="110.44" width="6.61" height="6.59" fill="#08947c"/><rect x="594.48" y="110.44" width="6.61" height="6.59" fill="#088c88"/><rect x="600.79" y="110.44" width="25.54" height="6.59" fill="#088494"/><rect x="626.03" y="110.44" width="6.61" height="6.59" fill="#088c88"/><rect x="632.34" y="110.44" width="6.61" height="6.59" fill="#10a06c"/><rect x="638.66" y="110.44" width="25.54" height="6.59" fill="#08947c"/><rect x="663.90" y="110.44" width="19.23" height="6.59" fill="#088c88"/><rect x="682.83" y="110.44" width="76.03" height="6.59" fill="#088494"/><rect x="758.56" y="110.44" width="25.54" height="6.59" fill="#088c88"/><rect x="487.20" y="116.72" width="6.61" height="6.59" fill="#62b860"/><rect x="493.51" y="116.72" width="6.61" height="6.59" fill="#10a06c"/><rect x="499.82" y="116.72" width="6.61" height="6.59" fill="#08947c"/><rect x="506.13" y="116.72" width="25.54" height="6.59" fill="#088c88"/><rect x="531.37" y="116.72" width="44.47" height="6.59" fill="#08947c"/><rect x="575.55" y="116.72" width="25.54" height="6.59" fill="#088c88"/><rect x="600.79" y="116.72" width="31.85" height="6.59" fill="#088494"/><rect x="632.34" y="116.72" width="6.61" height="6.59" fill="#10a06c"/><rect x="638.66" y="116.72" width="19.23" height="6.59" fill="#08947c"/><rect x="657.59" y="116.72" width="25.54" height="6.59" fill="#088c88"/><rect x="682.83" y="116.72" width="69.72" height="6.59" fill="#088494"/><rect x="752.25" y="116.72" width="31.85" height="6.59" fill="#088c88"/><rect x="487.20" y="123.01" width="12.92" height="6.59" fill="#62b860"/><rect x="499.82" y="123.01" width="6.61" height="6.59" fill="#10a06c"/><rect x="506.13" y="123.01" width="6.61" height="6.59" fill="#08947c"/><rect x="512.44" y="123.01" width="12.92" height="6.59" fill="#088c88"/><rect x="525.06" y="123.01" width="57.10" height="6.59" fill="#08947c"/><rect x="581.86" y="123.01" width="19.23" height="6.59" fill="#088c88"/><rect x="600.79" y="123.01" width="25.54" height="6.59" fill="#088494"/><rect x="626.03" y="123.01" width="6.61" height="6.59" fill="#08947c"/><rect x="632.34" y="123.01" width="12.92" height="6.59" fill="#10a06c"/><rect x="644.97" y="123.01" width="12.92" height="6.59" fill="#08947c"/><rect x="657.59" y="123.01" width="25.54" height="6.59" fill="#088c88"/><rect x="682.83" y="123.01" width="63.41" height="6.59" fill="#088494"/><rect x="745.94" y="123.01" width="38.16" height="6.59" fill="#088c88"/><rect x="487.20" y="129.30" width="6.61" height="6.59" fill="#62b860"/><rect x="493.51" y="129.30" width="12.92" height="6.59" fill="#38ac68"/><rect x="506.13" y="129.30" width="6.61" height="6.59" fill="#10a06c"/><rect x="512.44" y="129.30" width="6.61" height="6.59" fill="#08947c"/><rect x="518.75" y="129.30" width="6.61" height="6.59" fill="#088c88"/><rect x="525.06" y="129.30" width="6.61" height="6.59" fill="#10a06c"/><rect x="531.37" y="129.30" width="19.23" height="6.59" fill="#38ac68"/><rect x="550.31" y="129.30" width="31.85" height="6.59" fill="#08947c"/><rect x="581.86" y="129.30" width="19.23" height="6.59" fill="#088c88"/><rect x="600.79" y="129.30" width="12.92" height="6.59" fill="#088494"/><rect x="613.41" y="129.30" width="12.92" height="6.59" fill="#088c88"/><rect x="626.03" y="129.30" width="6.61" height="6.59" fill="#08947c"/><rect x="632.34" y="129.30" width="12.92" height="6.59" fill="#10a06c"/><rect x="644.97" y="129.30" width="12.92" height="6.59" fill="#08947c"/><rect x="657.59" y="129.30" width="19.23" height="6.59" fill="#088c88"/><rect x="676.52" y="129.30" width="63.41" height="6.59" fill="#088494"/><rect x="739.63" y="129.30" width="44.47" height="6.59" fill="#088c88"/><rect x="487.20" y="135.58" width="6.61" height="6.59" fill="#62b860"/><rect x="493.51" y="135.58" width="6.61" height="6.59" fill="#38ac68"/><rect x="499.82" y="135.58" width="12.92" height="6.59" fill="#10a06c"/><rect x="512.44" y="135.58" width="6.61" height="6.59" fill="#08947c"/><rect x="518.75" y="135.58" width="6.61" height="6.59" fill="#10a06c"/><rect x="525.06" y="135.58" width="25.54" height="6.59" fill="#38ac68"/><rect x="550.31" y="135.58" width="25.54" height="6.59" fill="#08947c"/><rect x="575.55" y="135.58" width="6.61" height="6.59" fill="#088c88"/><rect x="581.86" y="135.58" width="6.61" height="6.59" fill="#08947c"/><rect x="588.17" y="135.58" width="38.16" height="6.59" fill="#088c88"/><rect x="626.03" y="135.58" width="6.61" height="6.59" fill="#08947c"/><rect x="632.34" y="135.58" width="12.92" height="6.59" fill="#10a06c"/><rect x="644.97" y="135.58" width="6.61" height="6.59" fill="#08947c"/><rect x="651.28" y="135.58" width="6.61" height="6.59" fill="#088c88"/><rect x="657.59" y="135.58" width="69.72" height="6.59" fill="#088494"/><rect x="727.00" y="135.58" width="57.10" height="6.59" fill="#088c88"/><rect x="487.20" y="141.87" width="6.61" height="6.59" fill="#90c850"/><rect x="493.51" y="141.87" width="6.61" height="6.59" fill="#38ac68"/><rect x="499.82" y="141.87" width="6.61" height="6.59" fill="#08947c"/><rect x="506.13" y="141.87" width="6.61" height="6.59" fill="#10a06c"/><rect x="512.44" y="141.87" width="19.23" height="6.59" fill="#38ac68"/><rect x="531.37" y="141.87" width="12.92" height="6.59" fill="#10a06c"/><rect x="544.00" y="141.87" width="12.92" height="6.59" fill="#08947c"/><rect x="556.62" y="141.87" width="6.61" height="6.59" fill="#088c88"/><rect x="562.93" y="141.87" width="12.92" height="6.59" fill="#08947c"/><rect x="575.55" y="141.87" width="6.61" height="6.59" fill="#088494"/><rect x="581.86" y="141.87" width="44.47" height="6.59" fill="#088c88"/><rect x="626.03" y="141.87" width="12.92" height="6.59" fill="#08947c"/><rect x="638.66" y="141.87" width="6.61" height="6.59" fill="#10a06c"/><rect x="644.97" y="141.87" width="6.61" height="6.59" fill="#08947c"/><rect x="651.28" y="141.87" width="6.61" height="6.59" fill="#088c88"/><rect x="657.59" y="141.87" width="57.10" height="6.59" fill="#088494"/><rect x="714.38" y="141.87" width="44.47" height="6.59" fill="#088c88"/><rect x="758.56" y="141.87" width="25.54" height="6.59" fill="#08947c"/><rect x="487.20" y="148.16" width="6.61" height="6.59" fill="#62b860"/><rect x="493.51" y="148.16" width="6.61" height="6.59" fill="#38ac68"/><rect x="499.82" y="148.16" width="25.54" height="6.59" fill="#10a06c"/><rect x="525.06" y="148.16" width="31.85" height="6.59" fill="#08947c"/><rect x="556.62" y="148.16" width="12.92" height="6.59" fill="#088c88"/><rect x="569.24" y="148.16" width="6.61" height="6.59" fill="#08947c"/><rect x="575.55" y="148.16" width="6.61" height="6.59" fill="#088494"/><rect x="581.86" y="148.16" width="6.61" height="6.59" fill="#088c88"/><rect x="588.17" y="148.16" width="6.61" height="6.59" fill="#088494"/><rect x="594.48" y="148.16" width="12.92" height="6.59" fill="#088c88"/><rect x="607.10" y="148.16" width="44.47" height="6.59" fill="#08947c"/><rect x="651.28" y="148.16" width="6.61" height="6.59" fill="#088c88"/><rect x="657.59" y="148.16" width="57.10" height="6.59" fill="#088494"/><rect x="714.38" y="148.16" width="25.54" height="6.59" fill="#088c88"/><rect x="739.63" y="148.16" width="44.47" height="6.59" fill="#08947c"/><rect x="487.20" y="154.44" width="6.61" height="6.59" fill="#62b860"/><rect x="493.51" y="154.44" width="25.54" height="6.59" fill="#10a06c"/><rect x="518.75" y="154.44" width="57.10" height="6.59" fill="#08947c"/><rect x="575.55" y="154.44" width="6.61" height="6.59" fill="#088494"/><rect x="581.86" y="154.44" width="6.61" height="6.59" fill="#088c88"/><rect x="588.17" y="154.44" width="6.61" height="6.59" fill="#088494"/><rect x="594.48" y="154.44" width="12.92" height="6.59" fill="#088c88"/><rect x="607.10" y="154.44" width="44.47" height="6.59" fill="#08947c"/><rect x="651.28" y="154.44" width="6.61" height="6.59" fill="#088c88"/><rect x="657.59" y="154.44" width="44.47" height="6.59" fill="#088494"/><rect x="701.76" y="154.44" width="31.85" height="6.59" fill="#088c88"/><rect x="733.31" y="154.44" width="50.79" height="6.59" fill="#08947c"/><rect x="487.20" y="160.73" width="6.61" height="6.59" fill="#62b860"/><rect x="493.51" y="160.73" width="19.23" height="6.59" fill="#38ac68"/><rect x="512.44" y="160.73" width="6.61" height="6.59" fill="#10a06c"/><rect x="518.75" y="160.73" width="25.54" height="6.59" fill="#08947c"/><rect x="544.00" y="160.73" width="12.92" height="6.59" fill="#10a06c"/><rect x="556.62" y="160.73" width="6.61" height="6.59" fill="#08947c"/><rect x="562.93" y="160.73" width="12.92" height="6.59" fill="#10a06c"/><rect x="575.55" y="160.73" width="12.92" height="6.59" fill="#08947c"/><rect x="588.17" y="160.73" width="6.61" height="6.59" fill="#088c88"/><rect x="594.48" y="160.73" width="19.23" height="6.59" fill="#08947c"/><rect x="613.41" y="160.73" width="44.47" height="6.59" fill="#088c88"/><rect x="657.59" y="160.73" width="38.16" height="6.59" fill="#088494"/><rect x="695.45" y="160.73" width="25.54" height="6.59" fill="#088c88"/><rect x="720.69" y="160.73" width="63.41" height="6.59" fill="#08947c"/><rect x="487.20" y="167.02" width="25.54" height="6.59" fill="#38ac68"/><rect x="512.44" y="167.02" width="19.23" height="6.59" fill="#10a06c"/><rect x="531.37" y="167.02" width="19.23" height="6.59" fill="#08947c"/><rect x="550.31" y="167.02" width="6.61" height="6.59" fill="#10a06c"/><rect x="556.62" y="167.02" width="6.61" height="6.59" fill="#08947c"/><rect x="562.93" y="167.02" width="19.23" height="6.59" fill="#10a06c"/><rect x="581.86" y="167.02" width="6.61" height="6.59" fill="#08947c"/><rect x="588.17" y="167.02" width="6.61" height="6.59" fill="#088c88"/><rect x="594.48" y="167.02" width="6.61" height="6.59" fill="#08947c"/><rect x="600.79" y="167.02" width="6.61" height="6.59" fill="#10a06c"/><rect x="607.10" y="167.02" width="6.61" height="6.59" fill="#08947c"/><rect x="613.41" y="167.02" width="57.10" height="6.59" fill="#088c88"/><rect x="670.21" y="167.02" width="19.23" height="6.59" fill="#088494"/><rect x="689.14" y="167.02" width="19.23" height="6.59" fill="#088c88"/><rect x="708.07" y="167.02" width="76.03" height="6.59" fill="#08947c"/><rect x="487.20" y="173.30" width="6.61" height="6.59" fill="#38ac68"/><rect x="493.51" y="173.30" width="6.61" height="6.59" fill="#62b860"/><rect x="499.82" y="173.30" width="6.61" height="6.59" fill="#38ac68"/><rect x="506.13" y="173.30" width="6.61" height="6.59" fill="#10a06c"/><rect x="512.44" y="173.30" width="19.23" height="6.59" fill="#38ac68"/><rect x="531.37" y="173.30" width="25.54" height="6.59" fill="#10a06c"/><rect x="556.62" y="173.30" width="6.61" height="6.59" fill="#08947c"/><rect x="562.93" y="173.30" width="19.23" height="6.59" fill="#38ac68"/><rect x="581.86" y="173.30" width="6.61" height="6.59" fill="#10a06c"/><rect x="588.17" y="173.30" width="12.92" height="6.59" fill="#088c88"/><rect x="600.79" y="173.30" width="6.61" height="6.59" fill="#10a06c"/><rect x="607.10" y="173.30" width="12.92" height="6.59" fill="#08947c"/><rect x="619.72" y="173.30" width="82.34" height="6.59" fill="#088c88"/><rect x="701.76" y="173.30" width="57.10" height="6.59" fill="#08947c"/><rect x="758.56" y="173.30" width="25.54" height="6.59" fill="#10a06c"/><rect x="487.20" y="179.59" width="6.61" height="6.59" fill="#38ac68"/><rect x="493.51" y="179.59" width="6.61" height="6.59" fill="#62b860"/><rect x="499.82" y="179.59" width="25.54" height="6.59" fill="#38ac68"/><rect x="525.06" y="179.59" width="38.16" height="6.59" fill="#10a06c"/><rect x="562.93" y="179.59" width="19.23" height="6.59" fill="#38ac68"/><rect x="581.86" y="179.59" width="6.61" height="6.59" fill="#10a06c"/><rect x="588.17" y="179.59" width="6.61" height="6.59" fill="#088494"/><rect x="594.48" y="179.59" width="25.54" height="6.59" fill="#08947c"/><rect x="619.72" y="179.59" width="76.03" height="6.59" fill="#088c88"/><rect x="695.45" y="179.59" width="50.79" height="6.59" fill="#08947c"/><rect x="745.94" y="179.59" width="38.16" height="6.59" fill="#10a06c"/><rect x="487.20" y="185.88" width="6.61" height="6.59" fill="#10a06c"/><rect x="493.51" y="185.88" width="12.92" height="6.59" fill="#38ac68"/><rect x="506.13" y="185.88" width="6.61" height="6.59" fill="#62b860"/><rect x="512.44" y="185.88" width="12.92" height="6.59" fill="#38ac68"/><rect x="525.06" y="185.88" width="31.85" height="6.59" fill="#10a06c"/><rect x="556.62" y="185.88" width="25.54" height="6.59" fill="#38ac68"/><rect x="581.86" y="185.88" width="6.61" height="6.59" fill="#10a06c"/><rect x="588.17" y="185.88" width="25.54" height="6.59" fill="#08947c"/><rect x="613.41" y="185.88" width="88.65" height="6.59" fill="#088c88"/><rect x="701.76" y="185.88" width="25.54" height="6.59" fill="#08947c"/><rect x="727.00" y="185.88" width="57.10" height="6.59" fill="#10a06c"/><rect x="487.20" y="192.16" width="6.61" height="6.59" fill="#38ac68"/><rect x="493.51" y="192.16" width="12.92" height="6.59" fill="#62b860"/><rect x="506.13" y="192.16" width="6.61" height="6.59" fill="#90c850"/><rect x="512.44" y="192.16" width="6.61" height="6.59" fill="#62b860"/><rect x="518.75" y="192.16" width="6.61" height="6.59" fill="#38ac68"/><rect x="525.06" y="192.16" width="19.23" height="6.59" fill="#10a06c"/><rect x="544.00" y="192.16" width="25.54" height="6.59" fill="#38ac68"/><rect x="569.24" y="192.16" width="12.92" height="6.59" fill="#62b860"/><rect x="581.86" y="192.16" width="12.92" height="6.59" fill="#10a06c"/><rect x="594.48" y="192.16" width="19.23" height="6.59" fill="#08947c"/><rect x="613.41" y="192.16" width="50.79" height="6.59" fill="#088c88"/><rect x="663.90" y="192.16" width="12.92" height="6.59" fill="#08947c"/><rect x="676.52" y="192.16" width="12.92" height="6.59" fill="#088c88"/><rect x="689.14" y="192.16" width="31.85" height="6.59" fill="#08947c"/><rect x="720.69" y="192.16" width="63.41" height="6.59" fill="#10a06c"/><rect x="487.20" y="198.45" width="6.61" height="6.59" fill="#62b860"/><rect x="493.51" y="198.45" width="19.23" height="6.59" fill="#90c850"/><rect x="512.44" y="198.45" width="6.61" height="6.59" fill="#62b860"/><rect x="518.75" y="198.45" width="6.61" height="6.59" fill="#38ac68"/><rect x="525.06" y="198.45" width="25.54" height="6.59" fill="#10a06c"/><rect x="550.31" y="198.45" width="6.61" height="6.59" fill="#62b860"/><rect x="556.62" y="198.45" width="12.92" height="6.59" fill="#38ac68"/><rect x="569.24" y="198.45" width="12.92" height="6.59" fill="#62b860"/><rect x="581.86" y="198.45" width="19.23" height="6.59" fill="#10a06c"/><rect x="600.79" y="198.45" width="19.23" height="6.59" fill="#08947c"/><rect x="619.72" y="198.45" width="12.92" height="6.59" fill="#088c88"/><rect x="632.34" y="198.45" width="82.34" height="6.59" fill="#08947c"/><rect x="714.38" y="198.45" width="69.72" height="6.59" fill="#10a06c"/><rect x="487.20" y="204.74" width="12.92" height="6.59" fill="#62b860"/><rect x="499.82" y="204.74" width="12.92" height="6.59" fill="#90c850"/><rect x="512.44" y="204.74" width="12.92" height="6.59" fill="#38ac68"/><rect x="525.06" y="204.74" width="6.61" height="6.59" fill="#10a06c"/><rect x="531.37" y="204.74" width="6.61" height="6.59" fill="#08947c"/><rect x="537.69" y="204.74" width="6.61" height="6.59" fill="#38ac68"/><rect x="544.00" y="204.74" width="6.61" height="6.59" fill="#10a06c"/><rect x="550.31" y="204.74" width="6.61" height="6.59" fill="#38ac68"/><rect x="556.62" y="204.74" width="6.61" height="6.59" fill="#62b860"/><rect x="562.93" y="204.74" width="19.23" height="6.59" fill="#38ac68"/><rect x="581.86" y="204.74" width="19.23" height="6.59" fill="#10a06c"/><rect x="600.79" y="204.74" width="38.16" height="6.59" fill="#08947c"/><rect x="638.66" y="204.74" width="6.61" height="6.59" fill="#10a06c"/><rect x="644.97" y="204.74" width="57.10" height="6.59" fill="#08947c"/><rect x="701.76" y="204.74" width="82.34" height="6.59" fill="#10a06c"/><rect x="487.20" y="211.02" width="6.61" height="6.59" fill="#62b860"/><rect x="493.51" y="211.02" width="6.61" height="6.59" fill="#38ac68"/><rect x="499.82" y="211.02" width="6.61" height="6.59" fill="#62b860"/><rect x="506.13" y="211.02" width="6.61" height="6.59" fill="#90c850"/><rect x="512.44" y="211.02" width="6.61" height="6.59" fill="#38ac68"/><rect x="518.75" y="211.02" width="19.23" height="6.59" fill="#10a06c"/><rect x="537.69" y="211.02" width="12.92" height="6.59" fill="#38ac68"/><rect x="550.31" y="211.02" width="6.61" height="6.59" fill="#90c850"/><rect x="556.62" y="211.02" width="6.61" height="6.59" fill="#62b860"/><rect x="562.93" y="211.02" width="25.54" height="6.59" fill="#38ac68"/><rect x="588.17" y="211.02" width="195.93" height="6.59" fill="#10a06c"/><rect x="487.20" y="217.31" width="12.92" height="6.59" fill="#62b860"/><rect x="499.82" y="217.31" width="6.61" height="6.59" fill="#38ac68"/><rect x="506.13" y="217.31" width="12.92" height="6.59" fill="#62b860"/><rect x="518.75" y="217.31" width="12.92" height="6.59" fill="#10a06c"/><rect x="531.37" y="217.31" width="6.61" height="6.59" fill="#38ac68"/><rect x="537.69" y="217.31" width="6.61" height="6.59" fill="#62b860"/><rect x="544.00" y="217.31" width="6.61" height="6.59" fill="#38ac68"/><rect x="550.31" y="217.31" width="6.61" height="6.59" fill="#90c850"/><rect x="556.62" y="217.31" width="6.61" height="6.59" fill="#62b860"/><rect x="562.93" y="217.31" width="44.47" height="6.59" fill="#38ac68"/><rect x="607.10" y="217.31" width="19.23" height="6.59" fill="#10a06c"/><rect x="626.03" y="217.31" width="19.23" height="6.59" fill="#38ac68"/><rect x="644.97" y="217.31" width="139.13" height="6.59" fill="#10a06c"/><rect x="487.20" y="223.59" width="12.92" height="6.59" fill="#62b860"/><rect x="499.82" y="223.59" width="12.92" height="6.59" fill="#38ac68"/><rect x="512.44" y="223.59" width="6.61" height="6.59" fill="#62b860"/><rect x="518.75" y="223.59" width="12.92" height="6.59" fill="#10a06c"/><rect x="531.37" y="223.59" width="6.61" height="6.59" fill="#38ac68"/><rect x="537.69" y="223.59" width="6.61" height="6.59" fill="#10a06c"/><rect x="544.00" y="223.59" width="19.23" height="6.59" fill="#62b860"/><rect x="562.93" y="223.59" width="88.65" height="6.59" fill="#38ac68"/><rect x="651.28" y="223.59" width="132.82" height="6.59" fill="#10a06c"/><rect x="487.20" y="229.88" width="6.61" height="6.59" fill="#62b860"/><rect x="493.51" y="229.88" width="6.61" height="6.59" fill="#38ac68"/><rect x="499.82" y="229.88" width="19.23" height="6.59" fill="#10a06c"/><rect x="518.75" y="229.88" width="12.92" height="6.59" fill="#08947c"/><rect x="531.37" y="229.88" width="6.61" height="6.59" fill="#38ac68"/><rect x="537.69" y="229.88" width="6.61" height="6.59" fill="#10a06c"/><rect x="544.00" y="229.88" width="44.47" height="6.59" fill="#38ac68"/><rect x="588.17" y="229.88" width="6.61" height="6.59" fill="#62b860"/><rect x="594.48" y="229.88" width="69.72" height="6.59" fill="#38ac68"/><rect x="663.90" y="229.88" width="69.72" height="6.59" fill="#10a06c"/><rect x="733.31" y="229.88" width="12.92" height="6.59" fill="#38ac68"/><rect x="745.94" y="229.88" width="38.16" height="6.59" fill="#10a06c"/><rect x="487.20" y="236.17" width="6.61" height="6.59" fill="#62b860"/><rect x="493.51" y="236.17" width="25.54" height="6.59" fill="#10a06c"/><rect x="518.75" y="236.17" width="12.92" height="6.59" fill="#08947c"/><rect x="531.37" y="236.17" width="6.61" height="6.59" fill="#38ac68"/><rect x="537.69" y="236.17" width="6.61" height="6.59" fill="#10a06c"/><rect x="544.00" y="236.17" width="44.47" height="6.59" fill="#38ac68"/><rect x="588.17" y="236.17" width="25.54" height="6.59" fill="#62b860"/><rect x="613.41" y="236.17" width="50.79" height="6.59" fill="#38ac68"/><rect x="663.90" y="236.17" width="57.10" height="6.59" fill="#10a06c"/><rect x="720.69" y="236.17" width="25.54" height="6.59" fill="#38ac68"/><rect x="745.94" y="236.17" width="38.16" height="6.59" fill="#10a06c"/><rect x="487.20" y="242.45" width="6.61" height="6.59" fill="#62b860"/><rect x="493.51" y="242.45" width="6.61" height="6.59" fill="#38ac68"/><rect x="499.82" y="242.45" width="12.92" height="6.59" fill="#10a06c"/><rect x="512.44" y="242.45" width="19.23" height="6.59" fill="#08947c"/><rect x="531.37" y="242.45" width="57.10" height="6.59" fill="#38ac68"/><rect x="588.17" y="242.45" width="25.54" height="6.59" fill="#62b860"/><rect x="613.41" y="242.45" width="139.13" height="6.59" fill="#38ac68"/><rect x="752.25" y="242.45" width="31.85" height="6.59" fill="#10a06c"/><rect x="487.20" y="248.74" width="12.92" height="6.59" fill="#38ac68"/><rect x="499.82" y="248.74" width="19.23" height="6.59" fill="#10a06c"/><rect x="518.75" y="248.74" width="12.92" height="6.59" fill="#08947c"/><rect x="531.37" y="248.74" width="6.61" height="6.59" fill="#10a06c"/><rect x="537.69" y="248.74" width="50.79" height="6.59" fill="#38ac68"/><rect x="588.17" y="248.74" width="25.54" height="6.59" fill="#62b860"/><rect x="613.41" y="248.74" width="132.82" height="6.59" fill="#38ac68"/><rect x="745.94" y="248.74" width="38.16" height="6.59" fill="#10a06c"/><rect x="487.20" y="255.03" width="6.61" height="6.59" fill="#10a06c"/><rect x="493.51" y="255.03" width="6.61" height="6.59" fill="#62b860"/><rect x="499.82" y="255.03" width="12.92" height="6.59" fill="#10a06c"/><rect x="512.44" y="255.03" width="12.92" height="6.59" fill="#08947c"/><rect x="525.06" y="255.03" width="12.92" height="6.59" fill="#10a06c"/><rect x="537.69" y="255.03" width="6.61" height="6.59" fill="#38ac68"/><rect x="544.00" y="255.03" width="12.92" height="6.59" fill="#90c850"/><rect x="556.62" y="255.03" width="12.92" height="6.59" fill="#62b860"/><rect x="569.24" y="255.03" width="19.23" height="6.59" fill="#38ac68"/><rect x="588.17" y="255.03" width="44.47" height="6.59" fill="#62b860"/><rect x="632.34" y="255.03" width="107.58" height="6.59" fill="#38ac68"/><rect x="739.63" y="255.03" width="44.47" height="6.59" fill="#10a06c"/><rect x="487.20" y="261.31" width="6.61" height="6.59" fill="#10a06c"/><rect x="493.51" y="261.31" width="6.61" height="6.59" fill="#38ac68"/><rect x="499.82" y="261.31" width="25.54" height="6.59" fill="#10a06c"/><rect x="525.06" y="261.31" width="12.92" height="6.59" fill="#38ac68"/><rect x="537.69" y="261.31" width="6.61" height="6.59" fill="#62b860"/><rect x="544.00" y="261.31" width="25.54" height="6.59" fill="#90c850"/><rect x="569.24" y="261.31" width="6.61" height="6.59" fill="#62b860"/><rect x="575.55" y="261.31" width="12.92" height="6.59" fill="#38ac68"/><rect x="588.17" y="261.31" width="50.79" height="6.59" fill="#62b860"/><rect x="638.66" y="261.31" width="101.27" height="6.59" fill="#38ac68"/><rect x="739.63" y="261.31" width="44.47" height="6.59" fill="#10a06c"/></g>
<rect x="37.2" y="388.0" width="296.6" height="232.6" fill="#e6e6e6"/>
<rect x="487.2" y="388.0" width="296.6" height="232.6" fill="#e6e6e6"/>
<g shape-rendering="crispEdges"><rect x="37.20" y="564.02" width="6.61" height="6.59" fill="#eae8c8"/><rect x="43.51" y="564.02" width="6.61" height="6.59" fill="#eae8c8"/><rect x="49.82" y="564.02" width="6.61" height="6.59" fill="#e8e7d7"/><rect x="37.20" y="570.31" width="6.61" height="6.59" fill="#eae8c8"/><rect x="43.51" y="570.31" width="6.61" height="6.59" fill="#eae8c8"/><rect x="49.82" y="570.31" width="6.61" height="6.59" fill="#e8e7d7"/><rect x="56.13" y="570.31" width="6.61" height="6.59" fill="#e8e7d7"/><rect x="62.44" y="570.31" width="6.61" height="6.59" fill="#e8e7d7"/><rect x="68.75" y="570.31" width="6.61" height="6.59" fill="#e8e7d7"/><rect x="37.20" y="576.59" width="6.61" height="6.59" fill="#eae8c8"/><rect x="43.51" y="576.59" width="6.61" height="6.59" fill="#eae8c8"/><rect x="49.82" y="576.59" width="6.61" height="6.59" fill="#eae8c8"/><rect x="56.13" y="576.59" width="6.61" height="6.59" fill="#eae8c8"/><rect x="62.44" y="576.59" width="6.61" height="6.59" fill="#eae8c8"/><rect x="68.75" y="576.59" width="6.61" height="6.59" fill="#e8e7d7"/><rect x="75.06" y="576.59" width="6.61" height="6.59" fill="#e8e7d7"/><rect x="37.20" y="582.88" width="6.61" height="6.59" fill="#eae8c8"/><rect x="43.51" y="582.88" width="6.61" height="6.59" fill="#ece8b8"/><rect x="49.82" y="582.88" width="6.61" height="6.59" fill="#ece8b8"/><rect x="56.13" y="582.88" width="6.61" height="6.59" fill="#ece8b8"/><rect x="62.44" y="582.88" width="6.61" height="6.59" fill="#eae8c8"/><rect x="68.75" y="582.88" width="6.61" height="6.59" fill="#e8e7d7"/><rect x="37.20" y="589.17" width="6.61" height="6.59" fill="#ece8b8"/><rect x="43.51" y="589.17" width="6.61" height="6.59" fill="#ece8b8"/><rect x="49.82" y="589.17" width="6.61" height="6.59" fill="#ece8b8"/><rect x="56.13" y="589.17" width="6.61" height="6.59" fill="#eae8c8"/><rect x="62.44" y="589.17" width="6.61" height="6.59" fill="#eae8c8"/><rect x="68.75" y="589.17" width="6.61" height="6.59" fill="#e8e7d7"/><rect x="37.20" y="595.45" width="6.61" height="6.59" fill="#eae8c8"/><rect x="43.51" y="595.45" width="6.61" height="6.59" fill="#eae8c8"/><rect x="49.82" y="595.45" width="6.61" height="6.59" fill="#eae8c8"/><rect x="56.13" y="595.45" width="6.61" height="6.59" fill="#eae8c8"/><rect x="62.44" y="595.45" width="6.61" height="6.59" fill="#eae8c8"/><rect x="68.75" y="595.45" width="6.61" height="6.59" fill="#e8e7d7"/><rect x="37.20" y="601.74" width="6.61" height="6.59" fill="#eae8c8"/><rect x="43.51" y="601.74" width="6.61" height="6.59" fill="#eae8c8"/><rect x="49.82" y="601.74" width="6.61" height="6.59" fill="#e8e7d7"/><rect x="56.13" y="601.74" width="6.61" height="6.59" fill="#e8e7d7"/><rect x="62.44" y="601.74" width="6.61" height="6.59" fill="#e8e7d7"/><rect x="81.37" y="601.74" width="6.61" height="6.59" fill="#e8e7d7"/><rect x="37.20" y="608.03" width="6.61" height="6.59" fill="#eae8c8"/><rect x="43.51" y="608.03" width="6.61" height="6.59" fill="#eae8c8"/><rect x="49.82" y="608.03" width="6.61" height="6.59" fill="#e8e7d7"/><rect x="56.13" y="608.03" width="6.61" height="6.59" fill="#e8e7d7"/><rect x="81.37" y="608.03" width="6.61" height="6.59" fill="#e8e7d7"/><rect x="37.20" y="614.31" width="6.61" height="6.59" fill="#eae8c8"/><rect x="43.51" y="614.31" width="6.61" height="6.59" fill="#e8e7d7"/><rect x="49.82" y="614.31" width="6.61" height="6.59" fill="#e8e7d7"/><rect x="138.17" y="400.57" width="6.61" height="6.59" fill="#e8e7d7"/><rect x="144.48" y="400.57" width="6.61" height="6.59" fill="#e8e7d7"/><rect x="163.41" y="388.00" width="6.61" height="6.59" fill="#e8e7d7"/><rect x="163.41" y="394.29" width="6.61" height="6.59" fill="#e8e7d7"/><rect x="131.86" y="432.01" width="6.61" height="6.59" fill="#e8e7d7"/><rect x="138.17" y="432.01" width="6.61" height="6.59" fill="#e8e7d7"/><rect x="144.48" y="432.01" width="6.61" height="6.59" fill="#e8e7d7"/><rect x="125.55" y="438.29" width="6.61" height="6.59" fill="#eae8c8"/><rect x="131.86" y="438.29" width="6.61" height="6.59" fill="#eae8c8"/><rect x="138.17" y="438.29" width="6.61" height="6.59" fill="#e8e7d7"/><rect x="144.48" y="438.29" width="6.61" height="6.59" fill="#e8e7d7"/><rect x="150.79" y="438.29" width="6.61" height="6.59" fill="#e8e7d7"/><rect x="119.24" y="444.58" width="6.61" height="6.59" fill="#e8e7d7"/><rect x="125.55" y="444.58" width="6.61" height="6.59" fill="#ece8b8"/><rect x="131.86" y="444.58" width="6.61" height="6.59" fill="#ece8b8"/><rect x="138.17" y="444.58" width="6.61" height="6.59" fill="#eae8c8"/><rect x="144.48" y="444.58" width="6.61" height="6.59" fill="#eae8c8"/><rect x="150.79" y="444.58" width="6.61" height="6.59" fill="#eae8c8"/><rect x="138.17" y="450.86" width="6.61" height="6.59" fill="#e8e7d7"/><rect x="144.48" y="450.86" width="6.61" height="6.59" fill="#e8e7d7"/></g>
<g shape-rendering="crispEdges"><rect x="487.20" y="570.31" width="6.61" height="6.59" fill="#e8e7d7"/><rect x="493.51" y="570.31" width="6.61" height="6.59" fill="#e8e7d7"/><rect x="499.82" y="570.31" width="6.61" height="6.59" fill="#e8e7d7"/><rect x="506.13" y="570.31" width="6.61" height="6.59" fill="#e8e7d7"/><rect x="487.20" y="576.59" width="6.61" height="6.59" fill="#e8e7d7"/><rect x="493.51" y="576.59" width="6.61" height="6.59" fill="#e8e7d7"/><rect x="499.82" y="576.59" width="6.61" height="6.59" fill="#eae8c8"/><rect x="506.13" y="576.59" width="6.61" height="6.59" fill="#eae8c8"/><rect x="512.44" y="576.59" width="6.61" height="6.59" fill="#eae8c8"/><rect x="518.75" y="576.59" width="6.61" height="6.59" fill="#e8e7d7"/><rect x="487.20" y="582.88" width="6.61" height="6.59" fill="#e8e7d7"/><rect x="493.51" y="582.88" width="6.61" height="6.59" fill="#eae8c8"/><rect x="499.82" y="582.88" width="6.61" height="6.59" fill="#eae8c8"/><rect x="506.13" y="582.88" width="6.61" height="6.59" fill="#eae8c8"/><rect x="512.44" y="582.88" width="6.61" height="6.59" fill="#eae8c8"/><rect x="518.75" y="582.88" width="6.61" height="6.59" fill="#e8e7d7"/><rect x="487.20" y="589.17" width="6.61" height="6.59" fill="#eae8c8"/><rect x="493.51" y="589.17" width="6.61" height="6.59" fill="#eae8c8"/><rect x="499.82" y="589.17" width="6.61" height="6.59" fill="#eae8c8"/><rect x="506.13" y="589.17" width="6.61" height="6.59" fill="#eae8c8"/><rect x="512.44" y="589.17" width="6.61" height="6.59" fill="#eae8c8"/><rect x="518.75" y="589.17" width="6.61" height="6.59" fill="#e8e7d7"/><rect x="487.20" y="595.45" width="6.61" height="6.59" fill="#eae8c8"/><rect x="493.51" y="595.45" width="6.61" height="6.59" fill="#eae8c8"/><rect x="499.82" y="595.45" width="6.61" height="6.59" fill="#e8e7d7"/><rect x="506.13" y="595.45" width="6.61" height="6.59" fill="#e8e7d7"/><rect x="487.20" y="601.74" width="6.61" height="6.59" fill="#e8e7d7"/><rect x="493.51" y="601.74" width="6.61" height="6.59" fill="#e8e7d7"/><rect x="499.82" y="601.74" width="6.61" height="6.59" fill="#e8e7d7"/><rect x="506.13" y="601.74" width="6.61" height="6.59" fill="#e8e7d7"/><rect x="487.20" y="608.03" width="6.61" height="6.59" fill="#e8e7d7"/><rect x="493.51" y="608.03" width="6.61" height="6.59" fill="#e8e7d7"/><rect x="499.82" y="608.03" width="6.61" height="6.59" fill="#e8e7d7"/><rect x="487.20" y="614.31" width="6.61" height="6.59" fill="#e8e7d7"/><rect x="493.51" y="614.31" width="6.61" height="6.59" fill="#e8e7d7"/><rect x="575.55" y="438.29" width="6.61" height="6.59" fill="#e8e7d7"/><rect x="581.86" y="438.29" width="6.61" height="6.59" fill="#e8e7d7"/><rect x="588.17" y="438.29" width="6.61" height="6.59" fill="#e8e7d7"/><rect x="594.48" y="438.29" width="6.61" height="6.59" fill="#e8e7d7"/><rect x="575.55" y="444.58" width="6.61" height="6.59" fill="#eae8c8"/><rect x="581.86" y="444.58" width="6.61" height="6.59" fill="#eae8c8"/><rect x="588.17" y="444.58" width="6.61" height="6.59" fill="#e8e7d7"/><rect x="594.48" y="444.58" width="6.61" height="6.59" fill="#e8e7d7"/></g>
<defs><path id="mp" d="M29.1 107.6 L30.2 108.4 L31.2 109.2 L31.8 110.5 L33.1 111.0 L33.7 112.2 L34.7 113.1 L35.9 113.9 L36.5 115.3 L37.5 116.3 L38.8 116.3 L40.2 116.2 L41.1 117.5 L41.4 119.0 L41.8 120.4 L42.8 121.6 L43.1 123.1 L44.0 123.9 L45.0 124.9 L46.3 125.3 L48.0 127.0 L46.4 126.5 L44.7 127.2 L42.9 128.6 L44.0 129.7 L44.8 130.8 L44.8 132.6 L44.2 134.2 L42.7 133.5 L41.1 133.8 L39.7 133.1 L38.1 132.1 L36.3 131.4 L34.1 130.3 L33.6 131.9 L32.6 133.2 L31.4 132.2 L30.9 130.9 L29.9 129.3 L29.0 127.6M156.1 96.2 L132.2 103.3 L111.9 108.3 L108.0 112.0 L104.7 116.4 L101.3 122.0 L99.1 124.2M99.1 124.2 L98.0 124.8 L96.9 125.6 L95.8 126.4 L94.5 126.8 L93.5 127.6 L92.5 128.6 L91.3 129.1 L90.2 129.8 L88.5 130.1 L86.9 130.8 L85.6 131.6 L84.1 131.7 L83.0 132.8 L81.6 133.2 L80.2 133.6 L79.0 134.5 L77.7 134.8 L76.5 135.7 L75.1 135.8 L73.8 136.3 L72.6 137.0 L71.3 137.3 L70.2 138.2 L68.8 138.6 L67.6 139.2 L66.3 139.7 L65.1 140.4 L63.7 140.7 L62.4 141.2 L61.3 142.0 L60.1 143.2 L59.3 144.8 L58.0 145.9 L56.9 146.9 L55.8 147.9 L54.9 149.1 L54.1 150.3 L53.5 151.6 L52.7 152.8 L52.3 154.3 L52.9 155.3 L53.7 156.4 L55.5 156.4 L57.4 156.9 L59.0 156.4 L60.3 155.3 L61.9 154.7M61.9 154.8 L63.1 153.9 L64.6 153.3 L65.5 152.0 L66.9 151.4 L68.3 151.0 L69.7 150.9 L71.1 150.4 L72.4 149.9 L73.7 149.5 L75.1 149.5 L76.4 149.3 L77.8 149.6 L79.1 149.3 L80.5 149.4 L81.8 149.9 L83.0 150.5 L84.2 149.8 L85.6 149.3 L86.9 148.7 L88.3 148.2 L89.8 147.8 L91.3 147.9 L92.4 146.8 L93.6 145.8 L94.9 145.0 L95.8 143.7 L96.9 142.9 L98.1 142.2 L99.1 141.4 L99.6 139.9 L100.9 138.8 L100.4 137.3 L99.9 136.0 L99.2 134.8 L99.6 133.1 L100.2 131.4 L98.0 131.0 L97.0 130.0 L95.7 129.3 L96.5 127.9 L97.5 126.9 L98.3 125.7 L99.4 124.7 L100.1 123.5 L101.2 122.5M80.2 133.7 L81.1 132.4 L82.3 131.3 L84.1 131.0 L85.8 130.7 L87.1 131.4 L88.6 131.4 L89.1 133.1 L89.2 134.8 L88.1 135.6 L87.0 136.4 L85.9 137.1 L84.4 136.4 L82.9 135.9 L81.3 135.9 L79.7 134.2 L80.1 133.6M83.0 132.5 L86.5 133.5 L85.0 135.8M61.9 154.8 L63.0 158.1 L65.2 160.3 L66.3 162.0M66.3 162.0 L64.8 162.5 L63.3 162.7 L61.8 163.0 L60.2 163.0 L58.8 163.8 L57.4 164.3 L55.8 164.1 L54.4 164.8 L53.0 165.4 L51.7 165.8 L50.6 166.8 L49.2 167.0 L47.9 167.5 L46.7 168.8 L45.8 170.3 L47.5 170.3 L49.1 170.6 L50.8 170.8 L49.3 170.8 L47.7 171.0 L46.2 170.9 L44.7 171.2 L43.4 171.3 L42.0 170.9 L40.7 170.7 L39.4 170.7 L38.0 170.8 L36.5 171.1 L35.2 171.6 L33.9 172.4 L32.4 172.6 L31.4 173.4 L30.4 174.3 L29.2 174.9M66.3 162.0 L65.7 163.4 L65.1 164.9 L64.2 166.2 L63.5 167.6 L62.7 168.6 L61.6 169.5 L60.7 170.4 L59.8 171.4 L59.1 172.6 L58.1 173.8 L57.0 174.9 L55.8 175.9 L54.8 176.8 L53.5 177.5 L52.3 178.2 L51.3 179.1 L50.1 180.2 L48.8 181.1 L47.5 182.0 L46.4 183.2 L45.1 183.8 L43.8 184.4 L42.6 185.2 L41.4 186.0 L40.3 186.9 L39.1 187.7 L37.9 188.4 L37.0 189.6 L35.7 190.3 L34.6 191.3 L33.6 192.6 L32.5 193.7 L31.2 194.7 L29.1 195.7M55.8 175.9 L57.1 180.3 L119.1 166.8 L122.4 168.7 L124.7 172.6 L128.0 174.8 L130.0 175.9M46.3 183.1 L50.2 208.7 L51.3 210.3 L54.1 225.3M54.1 225.3 L123.8 211.0M50.2 208.7 L49.2 209.9 L50.9 211.3 L51.4 213.1 L51.2 214.8 L50.7 216.1 L51.0 217.7 L50.3 219.0 L49.8 220.4 L49.9 222.0 L50.0 223.5 L49.7 225.0 L49.5 226.7 L48.8 228.2 L47.5 229.0 L47.1 230.3 L46.5 231.5 L45.7 232.5 L44.5 233.4 L43.0 233.8 L41.8 234.7 L40.7 236.1 L39.2 237.1 L38.9 238.4 L38.6 239.7 L38.0 240.9 L37.6 242.4 L36.9 243.9 L36.4 245.3 L35.5 243.9 L34.1 243.1 L33.6 244.6 L32.9 246.1 L32.3 247.5 L32.3 249.1 L31.7 250.5 L31.9 252.0 L30.8 253.4 L29.7 254.8 L29.9 256.5 L29.4 258.1 L29.2 259.8 L30.1 260.9 L30.0 262.5 L30.9 263.7 L31.8 265.0 L32.5 266.4 L33.6 267.6 L35.0 268.6 L36.1 269.8 L37.4 270.9 L38.6 272.2 L40.3 273.0M69.1 222.6 L69.4 224.0 L70.0 225.4 L70.3 226.8 L70.1 228.4 L70.7 229.7 L70.9 231.2 L71.2 232.6 L72.5 231.7 L73.1 230.3 L74.2 229.3 L75.0 228.1 L76.0 227.0 L77.0 225.9 L78.0 224.6 L79.1 223.3 L80.2 222.0 L81.2 223.8 L82.7 223.9 L84.1 223.9 L85.3 222.6 L85.7 220.9 L87.3 220.8 L88.8 221.0 L90.2 220.4 L91.6 219.9 L93.0 219.8 L94.4 220.1 L95.4 221.5 L95.9 223.1 L96.5 224.7 L97.7 225.2 L99.1 225.4 L99.9 226.9 L101.4 228.0 L102.6 228.8 L104.0 229.2M56.9 273.1 L57.2 271.6 L58.1 270.4 L59.6 270.2 L60.8 269.0 L62.5 268.9 L63.2 267.5 L64.1 266.4 L65.3 265.6 L65.9 264.3 L65.9 262.7 L66.5 261.3 L66.9 259.8 L67.3 258.5 L67.7 257.2 L68.4 256.0 L69.2 254.8 L69.1 253.2 L70.0 251.8 L70.3 250.2 L70.6 248.7 L71.0 247.4 L71.6 246.1 L71.9 244.8 L73.5 245.6 L74.6 247.1 L76.1 247.0 L77.4 246.6 L77.5 244.9 L78.0 243.6 L78.3 242.2 L79.2 240.9 L79.8 239.4 L80.7 238.0 L82.2 236.9 L83.7 236.0 L84.6 234.7 L84.9 233.2 L85.7 231.9 L86.4 230.7 L86.4 229.3 L86.7 228.0 L86.4 226.4 L86.7 224.8 L88.0 224.9 L89.3 225.4 L90.8 225.8 L91.7 227.1 L93.1 227.5 L94.4 228.3 L95.9 228.6 L96.3 227.4 L95.7 226.1 L96.4 224.8M123.8 211.2 L126.0 208.1 L130.4 205.3 L133.1 202.6M123.8 211.4 L129.8 234.0 L138.7 232.9M133.1 202.6 L131.8 203.6 L130.5 204.5 L129.4 205.7 L128.3 206.9 L127.8 208.8 L127.0 210.4 L127.2 212.1 L127.6 213.8 L128.7 214.8 L129.6 216.0 L130.6 217.0 L131.3 218.3 L131.9 219.7 L132.3 221.2 L133.0 222.4 L134.0 223.4 L135.1 224.6 L136.4 225.6 L138.0 226.8 L138.7 228.2 L138.9 229.7 L139.4 231.0 L139.3 232.5 L139.8 233.9 L140.4 235.3 L139.7 237.0 L139.0 238.7 L139.2 240.0 L138.7 241.7 L138.6 243.4 L137.8 244.8 L136.8 246.2 L136.7 247.9 L136.3 249.6 L135.4 251.0 L134.5 252.4 L134.1 254.2 L133.4 255.9 L133.2 257.3 L133.2 258.7 L132.3 260.4 L131.2 258.7 L130.6 257.4 L130.5 255.9 L130.5 254.2 L131.0 252.5 L131.2 251.0 L131.7 249.6 L131.8 247.9 L132.4 246.2 L133.1 244.9 L133.5 243.4 L132.8 241.1 L131.6 241.8 L130.1 242.3 L128.9 240.0M137.4 241.7 L137.0 243.1 L136.3 244.4 L135.8 245.7 L135.2 247.4 L135.1 249.1 L134.6 250.6 L134.1 252.2 L133.5 254.1 L133.6 256.0M129.5 216.1 L130.9 216.7 L132.3 217.1 L133.5 218.0 L135.0 218.1 L136.5 218.2 L138.0 218.2 L139.4 220.0 L138.7 222.3 L140.3 223.0 L140.6 221.8 L141.4 220.6 L141.5 219.0 L141.9 217.5 L142.5 216.1 L143.1 214.3 L144.0 212.7 L144.6 211.5 L145.3 210.3 L145.8 209.0 L146.6 207.3 L147.3 205.5 L147.0 203.8 L146.9 202.0M123.3 213.2 L121.5 214.3 L120.0 215.6 L120.3 216.6 L118.2 217.8 L117.1 219.3 L115.2 220.5 L115.8 222.1 L113.6 222.6 L114.7 224.1 L115.8 225.8 L115.4 227.4 L116.5 229.7 L116.6 231.1 L116.6 232.5 L117.2 234.0 L118.1 235.4 L119.0 236.5 L119.8 237.7 L120.9 239.9 L122.0 242.1 L122.2 244.0 L121.1 245.8 L122.8 246.3 L124.4 247.4 L125.1 249.6 L125.0 251.3 L125.5 253.0 L126.7 255.3 L126.7 257.6 L125.5 258.7 L126.3 259.8 L127.4 260.7 L127.7 262.2 L128.3 264.4 L128.4 265.8 L128.4 267.2M122.5 213.8 L120.6 215.1 L119.3 217.0 L117.4 218.5 L116.3 220.3 L114.7 221.9 L114.3 223.4 L115.1 225.0 L114.7 227.0 L115.7 229.0 L115.4 230.5 L116.0 232.0 L116.8 233.5 L117.4 235.0M123.3 213.2 L122.8 214.6 L122.6 216.1 L121.0 217.8 L120.0 218.8 L119.4 220.1 L120.1 221.3 L120.5 222.9 L121.5 224.1 L119.9 225.7 L121.0 228.0 L122.2 229.0 L121.6 230.5 L120.5 231.4 L122.7 232.6 L125.0 232.0 L125.4 233.1 L123.3 234.3 L122.4 235.3 L121.6 236.5 L123.3 237.9 L125.1 238.0 L126.7 238.8 L127.3 237.4 L128.5 236.6 L128.3 238.0 L129.1 239.3 L129.8 240.4 L130.5 241.7 L129.3 243.7 L130.7 244.6 L131.8 245.4 L133.4 243.7 L134.8 243.3 L135.6 242.0 L136.2 243.8 L137.0 245.5M120.2 221.0 L121.2 223.2 L120.4 225.5 L121.9 227.4 L121.1 230.0 L122.5 231.8 L121.8 233.6 L121.7 235.5 L123.1 236.0 L123.9 237.1 L125.5 237.4 L127.0 237.6 L128.0 238.8 L128.2 240.2 L129.0 241.3 L129.9 242.4M117.0 223.4 L117.9 224.7 L118.2 226.3 L119.4 228.5 L118.6 230.8 L120.5 232.4M114.8 234.2 L115.2 235.7 L115.8 237.0 L117.2 237.7 L118.1 238.8 L119.2 239.7 L120.3 240.5 L121.1 241.8 L121.6 243.3M104.0 229.1 L106.3 230.2 L108.5 229.8 L109.7 231.4 L109.5 232.8 L109.1 234.2 L107.4 235.9 L107.2 237.4 L106.6 238.7 L106.8 240.2 L107.4 241.6 L109.2 240.5 L110.8 239.8 L112.5 241.6 L114.2 241.0 L115.5 241.7 L116.5 242.7 L117.8 243.3 L119.3 243.4 L121.6 243.9M109.4 232.0 L108.9 233.3 L108.5 234.6 L106.8 236.2 L106.5 237.6 L106.0 238.9 L106.8 240.3 L106.9 241.9 L108.4 242.3 L109.7 242.9 L111.2 242.9 L112.7 242.7 L114.2 242.7 L115.6 242.9 L116.8 242.2 L118.2 242.3 L119.5 242.8 L120.8 243.3 L122.1 244.1M107.0 239.5 L108.2 241.3 L110.5 240.5 L112.3 242.2 L114.6 241.8 L115.7 242.6 L116.8 243.3M110.2 245.1 L112.0 245.8 L113.6 246.7 L115.2 247.9 L116.4 249.4 L117.9 250.3 L119.3 251.2 L120.6 252.4 L122.0 253.1 L123.6 253.6 L125.0 254.1 L126.7 255.2M111.5 245.3 L113.2 246.0 L114.6 247.2 L116.2 248.3 L117.5 249.8 L119.1 250.6 L120.5 251.7 L121.9 252.8 L123.5 253.5M118.2 256.4 L119.6 257.5 L121.0 258.7 L122.4 259.3 L123.8 259.8 L126.1 261.0 L127.9 262.3M119.5 257.2 L121.1 258.2 L122.4 259.6 L124.1 259.8 L125.5 260.5M111.4 261.5 L113.1 261.4 L114.8 261.3 L116.5 260.9 L118.2 260.9 L119.4 261.6 L120.4 262.4 L121.6 263.1 L122.6 263.9 L123.7 264.8 L124.9 265.6 L126.7 264.8 L128.4 264.8 L129.7 264.9 L131.0 264.8 L132.3 264.4 L133.5 266.6 L134.3 267.9 L134.6 269.5 L135.6 271.3 L137.3 273.2M113.0 261.9 L114.8 262.0 L116.5 261.8 L118.2 262.0 L119.7 262.7 L121.0 263.7 L122.1 264.7 L123.3 265.5 L124.2 266.8 L125.5 267.8M119.5 262.5 L120.7 263.6 L122.0 264.6 L123.3 265.5 L124.5 266.5 L126.1 267.4M126.7 273.4 L130.6 272.3 L133.5 271.4 L135.7 271.2 L134.2 269.8 L133.8 271.3 L136.5 272.6 L134.5 272.4M132.2 103.3 L135.6 114.2 L136.7 123.1 L139.1 129.8 L140.0 130.3 L142.2 135.9 L144.4 144.8M144.4 144.8 L145.3 159.2 L148.9 177.0M161.1 89.2 L159.6 89.6 L158.2 90.5 L156.7 90.8 L156.5 92.2 L156.5 93.6 L156.4 94.9 L156.1 96.2 L156.2 97.8 L156.4 99.3 L156.8 100.9 L157.4 102.3 L157.8 103.8 L158.3 105.3 L157.6 106.5 L156.9 107.6 L155.9 108.6 L155.4 109.9 L154.4 110.9 L154.2 112.2 L153.8 113.5 L153.8 114.8 L153.5 116.1 L153.5 117.4 L153.4 118.7 L153.3 120.0 L152.9 121.3 L152.9 122.7 L153.0 124.0 L153.0 125.4 L152.7 126.7 L152.6 128.0 L152.8 129.4 L153.1 130.8 L153.1 132.2 L153.1 133.6 L153.6 135.0 L153.9 136.4 L153.9 137.8 L154.1 139.2 L154.1 140.6 L154.5 142.0M144.4 144.8 L154.4 142.0 L171.1 138.1 L174.4 135.3 L176.7 134.2M176.7 128.7 L177.7 130.2 L177.3 131.5 L177.1 132.9 L176.8 134.2M176.7 134.2 L177.4 135.5 L179.0 135.4 L179.8 136.7 L181.2 136.9 L180.7 138.3 L179.3 139.0 L179.0 140.4 L177.7 141.8 L177.8 143.7 L179.1 144.1 L180.2 144.8 L181.1 145.9 L182.0 147.2 L182.9 148.5 L184.5 149.1 L185.6 150.0 L186.9 150.8 L187.6 152.2 L187.7 153.6 L186.9 154.9 L188.2 153.7 L190.0 153.6 L191.6 153.6 L193.0 153.0 L194.3 152.3 L195.7 151.7 L196.4 150.2 L196.0 148.7 L194.9 148.1 L194.7 146.4 L193.4 145.8 L191.9 146.6 L190.6 145.8M186.7 154.8 L186.0 156.0 L185.1 157.1 L184.3 158.2 L183.4 159.3 L181.8 160.3 L180.0 160.4 L179.1 159.3 L179.0 157.8 L177.6 157.1 L176.2 155.7M195.6 151.4 L194.6 152.4 L193.4 153.0 L192.0 153.5 L190.9 154.4 L189.8 155.3 L188.7 156.3 L187.3 156.8 L185.9 156.5 L184.5 155.9 L184.1 157.7 L183.3 159.2M186.1 161.4 L189.4 159.8 L187.5 161.8 L186.1 161.4M195.0 159.8 L198.3 159.2 L196.7 157.6 L195.0 159.8M145.3 159.2 L168.9 153.7 L174.4 151.7 L176.4 156.1M168.9 153.7 L171.7 165.9M174.4 151.7 L176.7 164.2 L171.7 165.9M171.7 165.9 L170.4 166.1 L169.4 167.1 L168.1 167.4 L166.8 167.6 L165.5 168.1 L164.4 168.8 L163.2 169.5 L161.9 169.9 L160.5 169.8 L159.3 170.7 L157.9 170.8 L156.7 171.3 L155.7 172.3 L154.6 173.1 L153.2 173.5 L152.2 174.5 L151.2 175.5 L149.9 176.1 L148.9 177.0 L148.3 178.2 L147.8 179.4 L146.6 180.2 L146.0 181.3M145.6 182.6 L146.9 182.1 L148.2 181.8 L149.2 180.6 L150.6 180.2 L151.9 179.8 L153.3 179.5 L154.5 178.8 L155.6 178.1 L156.9 177.4 L158.2 177.0 L159.5 176.5 L160.9 176.2 L161.9 175.2 L163.3 174.9 L164.6 173.8 L165.7 172.7 L166.8 171.5 L165.6 173.7 L167.0 173.1 L168.4 172.7 L169.9 172.2 L171.4 172.0 L172.8 171.3 L171.9 172.5 L170.7 173.1 L169.9 174.2 L169.0 175.2 L167.9 176.0 L166.7 176.6 L165.6 177.4 L164.3 177.7 L163.2 178.4 L162.1 179.0 L161.2 180.2 L160.2 181.0 L159.0 181.5 L157.6 182.0 L156.3 182.6 L155.1 183.4 L153.9 184.1 L152.6 184.7 L151.2 185.2 L150.0 185.9 L148.7 186.3 L147.4 186.8 L146.2 187.4 L145.0 188.2 L145.4 186.8 L145.2 185.3 L145.5 184.0 L145.6 182.6M163.5 176.5 L164.7 175.7 L165.3 174.3 L166.4 173.4 L165.4 174.5 L164.1 175.1 L165.2 174.5 L166.1 173.4 L167.0 172.4M130.0 175.9 L143.3 179.8M130.0 175.9 L129.5 177.4 L128.5 178.7 L128.3 180.3 L127.9 181.9 L127.0 183.2 L126.7 184.8 L127.2 186.4 L128.4 187.5 L128.0 189.3 L127.3 190.9 L127.1 192.6 L128.3 193.7 L129.9 194.0 L131.0 195.0 L132.3 195.8 L133.5 196.5 L134.3 197.8 L135.5 198.4 L136.6 199.3 L135.6 200.4 L134.3 201.3 L133.3 202.6M142.2 175.3 L142.9 176.5 L143.2 178.0 L143.8 179.2 L144.4 180.9 L144.4 182.6 L143.6 184.0 L143.1 185.6 L142.2 187.0 L142.3 188.3 L142.1 189.6 L141.8 190.9 L143.0 191.2 L144.4 191.4 L145.7 192.4 L146.8 193.6 L146.9 195.1 L146.6 196.5 L147.0 197.8 L147.0 199.2 L147.1 200.6 L146.8 202.0M144.4 182.6 L143.5 187.5 L145.0 188.1M161.1 89.2 L170.0 114.2 L173.9 124.2 L176.7 128.7M161.1 89.4 L161.9 88.3 L162.3 87.1 L163.2 86.0 L165.6 85.0 L165.4 83.5 L165.3 82.1 L164.9 80.6 L165.8 79.3 L167.0 78.4 L167.8 77.2 L167.5 75.8 L167.4 74.5 L167.6 73.0 L167.2 71.7 L166.9 70.2 L166.4 68.7 L166.1 67.2 L166.7 65.8 L167.1 64.3 L167.2 62.8 L166.9 61.3 L167.0 59.8 L166.6 58.3 L166.8 56.8 L167.7 55.6 L167.9 54.2 L168.4 52.8 L168.7 51.4 L169.4 50.1 L169.6 48.6 L169.9 47.2 L170.1 45.9 L170.9 44.7 L171.4 43.5 L171.8 42.2 L173.9 41.0 L174.6 42.4 L175.4 43.7 L176.1 45.0 L177.5 44.8 L178.9 44.9 L180.0 44.0 L181.3 43.2 L182.0 41.8 L183.3 41.0 L184.4 40.1 L185.9 40.5 L187.4 40.2 L188.9 40.5 L190.0 41.9 L191.3 43.0 L192.8 43.9 L193.6 45.3 L193.6 46.9 L194.4 48.3 L194.6 49.7 L195.3 51.0 L195.6 52.4 L196.4 53.6 L196.6 55.0 L197.3 56.3 L197.6 57.7 L197.8 59.1 L198.3 60.4 L199.0 61.7 L199.6 63.0 L200.1 64.4 L200.5 65.8 L201.1 67.2 L202.6 67.5 L204.0 68.2 L205.3 69.0 L206.7 69.5 L207.5 71.0 L207.8 72.8 L208.4 74.0 L209.5 74.8 L209.9 76.1 L211.6 75.3 L213.3 75.0 L214.4 77.2M214.4 77.2 L216.0 76.8 L217.3 75.9 L218.9 75.6 L220.1 74.7 L221.0 73.6 L222.3 72.8 L223.3 71.7 L224.4 70.5 L225.4 69.2 L225.8 67.8 L225.6 66.1 L227.1 66.6 L228.2 67.9 L229.7 67.1 L230.5 65.8 L231.4 64.5 L232.8 63.9 L233.2 62.4 L234.2 61.3 L235.4 60.5 L235.9 59.1 L237.2 58.3 L237.9 57.2 L238.1 55.8 L239.5 55.1 L239.8 53.8 L241.1 52.7 L241.8 51.2 L240.6 50.3 L239.1 50.0 L238.3 48.6 L237.2 47.9 L238.4 48.9 L240.3 48.4 L241.3 49.9 L242.7 50.7 L244.4 50.7 L243.6 51.9 L244.0 53.5 L242.6 54.5 L242.8 56.1 L241.8 57.3 L241.4 58.7 L242.0 60.4 L240.9 61.7 L242.7 61.7 L243.8 60.4 L244.9 59.3 L246.4 58.6 L247.1 57.1 L248.8 57.3 L249.9 56.1 L251.5 56.4 L252.7 55.4 L254.2 55.4 L255.8 55.7 L257.1 54.5 L258.5 54.3 L260.0 54.4 L258.8 55.5 L257.8 56.8 L256.2 57.3 L255.1 58.7 L253.1 59.0 L252.1 60.5 L252.0 62.6 L253.0 64.4 L251.3 63.2 L249.3 63.0 L248.3 61.7 L247.3 60.5 L246.2 61.5 L244.7 61.6 L243.9 62.8M176.7 128.7 L177.4 127.4 L178.7 126.3 L177.4 124.1 L179.4 123.3 L179.6 121.8 L179.3 120.4 L180.7 119.3 L179.7 117.6 L181.1 116.5 L181.7 115.0 L182.1 113.3 L183.5 112.1 L184.0 110.4 L184.7 108.8 L186.5 109.5 L187.7 108.2 L189.2 107.4 L188.8 105.4 L190.6 105.8 L192.2 105.8 L193.0 104.1 L193.5 102.9 L193.0 101.2 L192.4 99.6 L193.4 98.2 L193.6 96.5 L195.3 95.5 L195.5 93.9 L196.3 95.4 L196.6 97.0 L198.8 95.7 L198.8 94.5 L200.1 93.6 L201.1 91.5 L203.1 91.2 L204.6 93.4 L204.5 91.7 L205.8 90.7 L206.4 89.2 L207.9 88.3 L208.9 89.9 L209.0 88.3 L210.6 87.6 L210.9 86.2 L210.7 84.6 L212.6 84.1 L212.9 82.3 L213.8 81.0 L215.3 80.3 L215.3 78.8 L214.8 77.1M184.0 111.5 L185.5 111.7 L186.5 110.4 L185.6 109.1 L185.5 107.6 L187.8 107.9 L189.5 107.6 L189.6 105.6 L190.7 104.0 L191.4 103.0 L193.3 103.2 L193.9 101.9 L194.3 100.3 L196.4 100.0 L196.1 97.7 L198.0 97.8 L199.5 97.4 L199.5 96.0 L199.8 94.6 L201.8 94.2 L202.0 92.1 L203.9 92.8 L205.2 92.4 L204.9 90.2 L206.2 89.3 L207.8 89.1 L208.8 88.2 L210.1 87.6 L211.3 86.6 L210.7 84.9 L212.0 83.8 L213.4 83.3M218.9 80.6 L220.6 82.8 L218.9 83.9 L218.9 80.6M168.9 28.9 L168.6 30.5 L167.6 31.9 L167.1 33.4 L166.7 35.0 L166.5 36.4 L165.5 37.5 L165.1 38.8 L164.8 40.1 L164.1 41.3 L163.8 42.6 L163.4 43.9 L163.0 45.3 L162.3 46.6 L161.9 47.9 L161.2 49.1 L160.4 50.3 L160.0 51.7 L158.9 52.7 L158.0 53.8 L157.3 55.1 L156.2 56.1 L155.4 57.2 L154.3 58.3 L153.5 59.3 L152.7 60.4 L151.7 61.2 L150.7 62.1 L150.1 63.3 L150.6 62.1 L150.6 60.7 L151.1 59.5 L151.6 58.3 L152.7 57.3 L153.7 56.3 L154.5 55.1 L155.1 53.8 L156.2 52.9 L156.1 51.4 L156.2 50.0 L156.8 48.6 L156.7 47.2 L157.6 45.9 L158.3 44.6 L159.3 43.4 L159.8 41.9 L160.7 40.6 L161.0 39.4 L161.4 38.1 L161.5 36.8 L162.0 35.5 L162.2 34.3 L162.4 32.9 L162.7 31.7 L161.1 30.0 L159.7 30.1 L158.4 29.5 L157.1 29.9 L155.7 29.8 L154.4 29.5 L153.1 29.4 L151.9 30.1 L150.6 30.5 L149.3 30.8 L148.0 31.1 L146.7 31.1 L145.0 30.2 L143.3 29.4M243.9 62.8 L242.8 63.7 L243.0 65.4 L241.5 66.0 L241.1 67.3 L239.7 68.0 L239.2 69.3 L238.1 70.2 L238.6 72.0 L236.7 72.4 L235.9 73.5 L235.1 74.6 L235.2 76.2 L234.6 77.5 L233.9 78.7 L233.2 79.9 L231.5 80.5 L230.6 81.9 L230.4 83.5 L229.8 84.9 L230.4 86.5 L231.5 87.8 L232.0 89.3 L233.0 90.6 L232.8 92.6 L234.1 93.8 L235.2 95.1 L236.1 96.7 L237.6 95.3 L239.4 96.4 L240.6 97.5 L241.6 99.0 L243.0 98.7 L244.3 98.6 L245.6 99.2 L246.0 97.2 L246.9 95.7 L246.8 93.9 L247.0 92.3 L248.4 91.6 L249.4 90.6 L250.5 89.7 L250.5 88.2 L251.7 87.4 L252.2 86.2 L252.6 84.9 L253.8 83.8 L252.9 82.0 L254.5 80.9 L254.2 79.3 L253.4 78.1 L253.6 76.7 L254.5 75.2 L254.2 73.9 L254.2 72.3 L255.8 71.7 L256.7 70.6 L257.8 71.8 L259.5 72.0 L260.9 72.0 L262.4 71.6 L263.9 71.9 L263.0 70.1 L263.1 68.2 L263.7 67.1 L264.7 66.2 L266.3 65.9 L267.2 64.8 L268.1 63.7 L269.8 63.3 L270.7 61.6 L272.7 61.8 L274.0 60.7 L275.2 59.8 L275.9 58.5 L276.5 57.1 L277.4 56.0 L278.3 54.9 L279.6 54.1 L279.8 52.4 L281.7 52.3 L281.5 50.4 L282.6 49.6 L283.8 48.8 L285.4 48.5 L286.1 47.0 L287.1 46.0 L288.8 45.9 L289.6 44.2 L291.1 43.9 L289.9 43.4 L288.7 42.6 L287.5 42.2 L286.1 42.1 L285.5 43.5 L284.5 44.5 L283.0 43.5 L283.1 41.5 L281.8 40.5 L280.4 39.9 L278.9 40.2 L277.7 39.1 L277.0 37.8 L275.6 37.2 L275.2 38.9 L273.8 39.8 L272.6 40.9 L272.2 42.7 L271.4 44.0 L270.1 45.1 L268.6 44.9 L267.3 44.8 L266.1 45.8 L264.6 46.2 L263.2 46.0 L261.7 45.7 L260.4 45.9 L259.3 46.9 L257.8 46.8 L256.1 47.0 L254.6 45.5 L252.8 45.9 L251.3 46.6 L250.1 45.1 L248.5 46.4 L247.2 45.7 L247.4 43.9 L246.3 42.7 L244.8 42.5 L243.5 43.1 L242.2 43.6 L240.9 42.9 L239.6 43.9 L238.3 43.5 L237.1 42.7 L235.9 42.0 L235.0 40.5 L234.6 38.8 L233.4 37.7 L232.4 36.5 L231.7 35.1 L230.6 33.9 L229.7 32.4 L230.1 30.6 L228.7 30.4 L227.5 29.4 L226.2 29.1 L225.3 30.4 L224.1 31.2 L223.2 32.1M237.8 29.4 L238.1 31.1 L238.5 32.7 L238.2 34.4 L239.2 35.5 L240.4 36.1 L241.5 36.7 L242.7 37.3 L244.2 38.0 L245.7 38.5 L247.2 38.9 L248.6 38.8 L249.9 39.3 L251.3 38.7 L252.6 39.2 L253.9 39.5 L255.3 39.2 L256.7 38.7 L257.9 37.9 L259.4 37.8 L260.9 38.3 L262.4 39.0 L263.9 39.4 L265.4 38.2 L266.8 36.8 L265.8 35.6 L265.7 34.0 L265.1 32.7 L266.0 31.8 L267.2 31.1 L268.6 30.7 L269.3 29.2M241.1 29.4 L241.6 31.1 L242.4 32.7 L243.3 33.8 L244.4 34.7 L245.9 34.9 L247.3 35.4 L248.5 35.6 L249.9 35.4 L251.2 35.5 L252.6 35.1 L253.9 35.1 L255.4 34.8 L256.7 33.9 L258.0 33.3 L259.5 33.0 L260.3 31.8 L261.8 31.6 L262.7 30.6 L264.0 30.1M278.9 29.4 L279.0 30.9 L278.1 32.3 L278.3 33.9 L279.4 35.0 L280.0 36.4 L280.6 37.8 L282.2 38.2 L283.6 39.2 L285.0 40.0 L286.4 39.7 L287.8 39.0 L289.1 38.5 L290.6 38.2 L291.8 37.6 L293.0 36.9 L293.9 35.8 L294.9 34.9 L295.9 34.0 L296.2 32.7 L296.8 31.5 L297.4 30.4 L298.4 29.4M285.0 30.0 L284.4 31.2 L284.4 32.6 L284.4 33.9 L285.8 35.1 L287.3 36.0 L288.7 35.4 L289.3 33.8 L290.6 32.8 L291.5 31.2 L291.8 29.4M286.5 29.4 L286.3 31.2 L286.1 33.0 L287.2 33.8 L288.6 34.3 L289.2 33.1 L289.0 31.5 L289.7 30.0M312.2 63.2 L315.3 61.9 L317.1 60.1" fill="none" stroke="#000" stroke-width="1" stroke-linejoin="round" stroke-linecap="round"/><clipPath id="cp"><rect x="28.5" y="28.5" width="313.5" height="245"/></clipPath></defs>
<rect x="28.5" y="28.5" width="313.5" height="245" fill="none" stroke="#000" stroke-width="1"/>
<text x="185" y="19" text-anchor="middle" font-weight="bold" font-size="12">Model 1 (EMBER): O3_MDA8 on 05/18/2023</text>
<line x1="38.8" y1="273.5" x2="38.8" y2="279.5" stroke="#000"/>
<text x="38.8" y="294.5" text-anchor="middle" font-size="10">-83.5</text>
<line x1="71.6" y1="273.5" x2="71.6" y2="279.5" stroke="#000"/>
<text x="71.6" y="294.5" text-anchor="middle" font-size="10">-81.5</text>
<line x1="104.4" y1="273.5" x2="104.4" y2="279.5" stroke="#000"/>
<text x="104.4" y="294.5" text-anchor="middle" font-size="10">-79.5</text>
<line x1="137.3" y1="273.5" x2="137.3" y2="279.5" stroke="#000"/>
<text x="137.3" y="294.5" text-anchor="middle" font-size="10">-77.5</text>
<line x1="170.1" y1="273.5" x2="170.1" y2="279.5" stroke="#000"/>
<text x="170.1" y="294.5" text-anchor="middle" font-size="10">-75.5</text>
<line x1="202.9" y1="273.5" x2="202.9" y2="279.5" stroke="#000"/>
<text x="202.9" y="294.5" text-anchor="middle" font-size="10">-73.5</text>
<line x1="235.7" y1="273.5" x2="235.7" y2="279.5" stroke="#000"/>
<text x="235.7" y="294.5" text-anchor="middle" font-size="10">-71.5</text>
<line x1="268.5" y1="273.5" x2="268.5" y2="279.5" stroke="#000"/>
<text x="268.5" y="294.5" text-anchor="middle" font-size="10">-69.5</text>
<line x1="301.4" y1="273.5" x2="301.4" y2="279.5" stroke="#000"/>
<text x="301.4" y="294.5" text-anchor="middle" font-size="10">-67.5</text>
<line x1="334.2" y1="273.5" x2="334.2" y2="279.5" stroke="#000"/>
<text x="334.2" y="294.5" text-anchor="middle" font-size="10">-65.5</text>
<line x1="22.5" y1="267.0" x2="28.5" y2="267.0" stroke="#000"/>
<text transform="translate(13.5,267.8) rotate(-90)" text-anchor="middle" font-size="10">38.5</text>
<line x1="22.5" y1="228.2" x2="28.5" y2="228.2" stroke="#000"/>
<text transform="translate(13.5,229.0) rotate(-90)" text-anchor="middle" font-size="10">40.5</text>
<line x1="22.5" y1="189.3" x2="28.5" y2="189.3" stroke="#000"/>
<text transform="translate(13.5,190.1) rotate(-90)" text-anchor="middle" font-size="10">42.5</text>
<line x1="22.5" y1="150.5" x2="28.5" y2="150.5" stroke="#000"/>
<text transform="translate(13.5,151.3) rotate(-90)" text-anchor="middle" font-size="10">44.5</text>
<line x1="22.5" y1="111.7" x2="28.5" y2="111.7" stroke="#000"/>
<text transform="translate(13.5,112.5) rotate(-90)" text-anchor="middle" font-size="10">46.5</text>
<line x1="22.5" y1="72.9" x2="28.5" y2="72.9" stroke="#000"/>
<text transform="translate(13.5,73.7) rotate(-90)" text-anchor="middle" font-size="10">48.5</text>
<line x1="22.5" y1="34.0" x2="28.5" y2="34.0" stroke="#000"/>
<text transform="translate(13.5,34.8) rotate(-90)" text-anchor="middle" font-size="10">50.5</text>
<rect x="478.5" y="28.5" width="313.5" height="245" fill="none" stroke="#000" stroke-width="1"/>
<text x="635" y="19" text-anchor="middle" font-weight="bold" font-size="12">Model 2 (ZeroFires): O3_MDA8 on 05/18/2023</text>
<line x1="488.8" y1="273.5" x2="488.8" y2="279.5" stroke="#000"/>
<text x="488.8" y="294.5" text-anchor="middle" font-size="10">-83.5</text>
<line x1="521.6" y1="273.5" x2="521.6" y2="279.5" stroke="#000"/>
<text x="521.6" y="294.5" text-anchor="middle" font-size="10">-81.5</text>
<line x1="554.4" y1="273.5" x2="554.4" y2="279.5" stroke="#000"/>
<text x="554.4" y="294.5" text-anchor="middle" font-size="10">-79.5</text>
<line x1="587.3" y1="273.5" x2="587.3" y2="279.5" stroke="#000"/>
<text x="587.3" y="294.5" text-anchor="middle" font-size="10">-77.5</text>
<line x1="620.1" y1="273.5" x2="620.1" y2="279.5" stroke="#000"/>
<text x="620.1" y="294.5" text-anchor="middle" font-size="10">-75.5</text>
<line x1="652.9" y1="273.5" x2="652.9" y2="279.5" stroke="#000"/>
<text x="652.9" y="294.5" text-anchor="middle" font-size="10">-73.5</text>
<line x1="685.7" y1="273.5" x2="685.7" y2="279.5" stroke="#000"/>
<text x="685.7" y="294.5" text-anchor="middle" font-size="10">-71.5</text>
<line x1="718.5" y1="273.5" x2="718.5" y2="279.5" stroke="#000"/>
<text x="718.5" y="294.5" text-anchor="middle" font-size="10">-69.5</text>
<line x1="751.4" y1="273.5" x2="751.4" y2="279.5" stroke="#000"/>
<text x="751.4" y="294.5" text-anchor="middle" font-size="10">-67.5</text>
<line x1="784.2" y1="273.5" x2="784.2" y2="279.5" stroke="#000"/>
<text x="784.2" y="294.5" text-anchor="middle" font-size="10">-65.5</text>
<line x1="472.5" y1="267.0" x2="478.5" y2="267.0" stroke="#000"/>
<text transform="translate(463.5,267.8) rotate(-90)" text-anchor="middle" font-size="10">38.5</text>
<line x1="472.5" y1="228.2" x2="478.5" y2="228.2" stroke="#000"/>
<text transform="translate(463.5,229.0) rotate(-90)" text-anchor="middle" font-size="10">40.5</text>
<line x1="472.5" y1="189.3" x2="478.5" y2="189.3" stroke="#000"/>
<text transform="translate(463.5,190.1) rotate(-90)" text-anchor="middle" font-size="10">42.5</text>
<line x1="472.5" y1="150.5" x2="478.5" y2="150.5" stroke="#000"/>
<text transform="translate(463.5,151.3) rotate(-90)" text-anchor="middle" font-size="10">44.5</text>
<line x1="472.5" y1="111.7" x2="478.5" y2="111.7" stroke="#000"/>
<text transform="translate(463.5,112.5) rotate(-90)" text-anchor="middle" font-size="10">46.5</text>
<line x1="472.5" y1="72.9" x2="478.5" y2="72.9" stroke="#000"/>
<text transform="translate(463.5,73.7) rotate(-90)" text-anchor="middle" font-size="10">48.5</text>
<line x1="472.5" y1="34.0" x2="478.5" y2="34.0" stroke="#000"/>
<text transform="translate(463.5,34.8) rotate(-90)" text-anchor="middle" font-size="10">50.5</text>
<rect x="28.5" y="381.5" width="313.5" height="245" fill="none" stroke="#000" stroke-width="1"/>
<text x="185" y="372" text-anchor="middle" font-weight="bold" font-size="12">Model 1 - Model 2: O3_MDA8</text>
<rect x="478.5" y="381.5" width="313.5" height="245" fill="none" stroke="#000" stroke-width="1"/>
<text x="635" y="372" text-anchor="middle" font-weight="bold" font-size="12">(Model 1 - Model 2)/(Model 1)x100%: O3_MDA8</text>
<g shape-rendering="crispEdges">
<rect x="390.4" y="41.20" width="8.0" height="3.91" fill="#a52a2a"/>
<rect x="390.4" y="44.80" width="8.0" height="3.91" fill="#b22525"/>
<rect x="390.4" y="48.41" width="8.0" height="3.91" fill="#c02020"/>
<rect x="390.4" y="52.03" width="8.0" height="3.91" fill="#d01818"/>
<rect x="390.4" y="55.64" width="8.0" height="3.91" fill="#e01010"/>
<rect x="390.4" y="59.25" width="8.0" height="3.91" fill="#f00808"/>
<rect x="390.4" y="62.86" width="8.0" height="3.91" fill="#ff0000"/>
<rect x="390.4" y="66.47" width="8.0" height="3.91" fill="#f6141c"/>
<rect x="390.4" y="70.08" width="8.0" height="3.91" fill="#ec2838"/>
<rect x="390.4" y="73.69" width="8.0" height="3.91" fill="#e43c58"/>
<rect x="390.4" y="77.30" width="8.0" height="3.91" fill="#dc5078"/>
<rect x="390.4" y="80.91" width="8.0" height="3.91" fill="#d26490"/>
<rect x="390.4" y="84.52" width="8.0" height="3.91" fill="#c878a8"/>
<rect x="390.4" y="88.12" width="8.0" height="3.91" fill="#cb758d"/>
<rect x="390.4" y="91.74" width="8.0" height="3.91" fill="#cd7373"/>
<rect x="390.4" y="95.35" width="8.0" height="3.91" fill="#d07058"/>
<rect x="390.4" y="98.96" width="8.0" height="3.91" fill="#d06d48"/>
<rect x="390.4" y="102.57" width="8.0" height="3.91" fill="#d06a38"/>
<rect x="390.4" y="106.18" width="8.0" height="3.91" fill="#d26828"/>
<rect x="390.4" y="109.79" width="8.0" height="3.91" fill="#d56818"/>
<rect x="390.4" y="113.40" width="8.0" height="3.91" fill="#d86808"/>
<rect x="390.4" y="117.01" width="8.0" height="3.91" fill="#db7508"/>
<rect x="390.4" y="120.62" width="8.0" height="3.91" fill="#de8208"/>
<rect x="390.4" y="124.23" width="8.0" height="3.91" fill="#e28e0a"/>
<rect x="390.4" y="127.84" width="8.0" height="3.91" fill="#e59b0d"/>
<rect x="390.4" y="131.45" width="8.0" height="3.91" fill="#e8a810"/>
<rect x="390.4" y="135.06" width="8.0" height="3.91" fill="#ebb516"/>
<rect x="390.4" y="138.67" width="8.0" height="3.91" fill="#eec21d"/>
<rect x="390.4" y="142.28" width="8.0" height="3.91" fill="#f0cd23"/>
<rect x="390.4" y="145.89" width="8.0" height="3.91" fill="#f0d62a"/>
<rect x="390.4" y="149.50" width="8.0" height="3.91" fill="#f0e030"/>
<rect x="390.4" y="153.11" width="8.0" height="3.91" fill="#cbd840"/>
<rect x="390.4" y="156.72" width="8.0" height="3.91" fill="#a5cd4c"/>
<rect x="390.4" y="160.33" width="8.0" height="3.91" fill="#80c054"/>
<rect x="390.4" y="163.94" width="8.0" height="3.91" fill="#55b35f"/>
<rect x="390.4" y="167.55" width="8.0" height="3.91" fill="#30a865"/>
<rect x="390.4" y="171.16" width="8.0" height="3.91" fill="#10a068"/>
<rect x="390.4" y="174.77" width="8.0" height="3.91" fill="#0c9874"/>
<rect x="390.4" y="178.38" width="8.0" height="3.91" fill="#089080"/>
<rect x="390.4" y="181.99" width="8.0" height="3.91" fill="#088890"/>
<rect x="390.4" y="185.60" width="8.0" height="3.91" fill="#0880a0"/>
<rect x="390.4" y="189.21" width="8.0" height="3.91" fill="#0c78a8"/>
<rect x="390.4" y="192.82" width="8.0" height="3.91" fill="#1070b0"/>
<rect x="390.4" y="196.43" width="8.0" height="3.91" fill="#1878b8"/>
<rect x="390.4" y="200.04" width="8.0" height="3.91" fill="#2080c0"/>
<rect x="390.4" y="203.65" width="8.0" height="3.91" fill="#2888c8"/>
<rect x="390.4" y="207.26" width="8.0" height="3.91" fill="#3692ce"/>
<rect x="390.4" y="210.87" width="8.0" height="3.91" fill="#459bd5"/>
<rect x="390.4" y="214.48" width="8.0" height="3.91" fill="#50a2d8"/>
<rect x="390.4" y="218.09" width="8.0" height="3.91" fill="#58a5d8"/>
<rect x="390.4" y="221.70" width="8.0" height="3.91" fill="#60a8d8"/>
<rect x="390.4" y="225.31" width="8.0" height="3.91" fill="#6fa5cb"/>
<rect x="390.4" y="228.92" width="8.0" height="3.91" fill="#7da3bd"/>
<rect x="390.4" y="232.53" width="8.0" height="3.91" fill="#8ca0b0"/>
<rect x="390.4" y="236.14" width="8.0" height="3.91" fill="#949ea6"/>
<rect x="390.4" y="239.75" width="8.0" height="3.91" fill="#9c9c9c"/>
<rect x="390.4" y="243.36" width="8.0" height="3.91" fill="#acacac"/>
<rect x="390.4" y="246.97" width="8.0" height="3.91" fill="#bcbcbc"/>
<rect x="390.4" y="250.58" width="8.0" height="3.91" fill="#cbcbcb"/>
<rect x="390.4" y="254.19" width="8.0" height="3.91" fill="#d8d8d8"/>
<rect x="390.4" y="257.80" width="8.0" height="3.91" fill="#e6e6e6"/>
</g>
<path d="M390.4 261.4 L390.4 41.2 L398.4 41.2 M390.4 261.4 L398.4 261.4" fill="none" stroke="#888" stroke-width="1"/>
<path d="M398.4 41.2 L398.4 261.4" fill="none" stroke="#222" stroke-width="1"/>
<line x1="398.4" y1="259.6" x2="404.7" y2="259.6" stroke="#000"/>
<text x="410" y="263.8" font-size="10">0</text>
<line x1="398.4" y1="241.6" x2="404.7" y2="241.6" stroke="#000"/>
<text x="410" y="245.8" font-size="10">10</text>
<line x1="398.4" y1="223.5" x2="404.7" y2="223.5" stroke="#000"/>
<text x="410" y="227.7" font-size="10">20</text>
<line x1="398.4" y1="205.5" x2="404.7" y2="205.5" stroke="#000"/>
<text x="410" y="209.7" font-size="10">30</text>
<line x1="398.4" y1="187.4" x2="404.7" y2="187.4" stroke="#000"/>
<text x="410" y="191.6" font-size="10">40</text>
<line x1="398.4" y1="169.4" x2="404.7" y2="169.4" stroke="#000"/>
<text x="410" y="173.6" font-size="10">50</text>
<line x1="398.4" y1="151.3" x2="404.7" y2="151.3" stroke="#000"/>
<text x="410" y="155.5" font-size="10">60</text>
<line x1="398.4" y1="133.2" x2="404.7" y2="133.2" stroke="#000"/>
<text x="410" y="137.4" font-size="10">70</text>
<line x1="398.4" y1="115.2" x2="404.7" y2="115.2" stroke="#000"/>
<text x="410" y="119.4" font-size="10">80</text>
<line x1="398.4" y1="97.2" x2="404.7" y2="97.2" stroke="#000"/>
<text x="410" y="101.4" font-size="10">90</text>
<line x1="398.4" y1="79.1" x2="404.7" y2="79.1" stroke="#000"/>
<text x="410" y="83.3" font-size="10">100</text>
<line x1="398.4" y1="61.1" x2="404.7" y2="61.1" stroke="#000"/>
<text x="410" y="65.3" font-size="10">110</text>
<line x1="398.4" y1="43.0" x2="404.7" y2="43.0" stroke="#000"/>
<text x="410" y="47.2" font-size="10">120</text>
<text x="380" y="38.8" font-size="12.4">ppbV</text>
<g shape-rendering="crispEdges">
<rect x="840.4" y="41.20" width="8.0" height="3.91" fill="#a52a2a"/>
<rect x="840.4" y="44.80" width="8.0" height="3.91" fill="#b22525"/>
<rect x="840.4" y="48.41" width="8.0" height="3.91" fill="#c02020"/>
<rect x="840.4" y="52.03" width="8.0" height="3.91" fill="#d01818"/>
<rect x="840.4" y="55.64" width="8.0" height="3.91" fill="#e01010"/>
<rect x="840.4" y="59.25" width="8.0" height="3.91" fill="#f00808"/>
<rect x="840.4" y="62.86" width="8.0" height="3.91" fill="#ff0000"/>
<rect x="840.4" y="66.47" width="8.0" height="3.91" fill="#f6141c"/>
<rect x="840.4" y="70.08" width="8.0" height="3.91" fill="#ec2838"/>
<rect x="840.4" y="73.69" width="8.0" height="3.91" fill="#e43c58"/>
<rect x="840.4" y="77.30" width="8.0" height="3.91" fill="#dc5078"/>
<rect x="840.4" y="80.91" width="8.0" height="3.91" fill="#d26490"/>
<rect x="840.4" y="84.52" width="8.0" height="3.91" fill="#c878a8"/>
<rect x="840.4" y="88.12" width="8.0" height="3.91" fill="#cb758d"/>
<rect x="840.4" y="91.74" width="8.0" height="3.91" fill="#cd7373"/>
<rect x="840.4" y="95.35" width="8.0" height="3.91" fill="#d07058"/>
<rect x="840.4" y="98.96" width="8.0" height="3.91" fill="#d06d48"/>
<rect x="840.4" y="102.57" width="8.0" height="3.91" fill="#d06a38"/>
<rect x="840.4" y="106.18" width="8.0" height="3.91" fill="#d26828"/>
<rect x="840.4" y="109.79" width="8.0" height="3.91" fill="#d56818"/>
<rect x="840.4" y="113.40" width="8.0" height="3.91" fill="#d86808"/>
<rect x="840.4" y="117.01" width="8.0" height="3.91" fill="#db7508"/>
<rect x="840.4" y="120.62" width="8.0" height="3.91" fill="#de8208"/>
<rect x="840.4" y="124.23" width="8.0" height="3.91" fill="#e28e0a"/>
<rect x="840.4" y="127.84" width="8.0" height="3.91" fill="#e59b0d"/>
<rect x="840.4" y="131.45" width="8.0" height="3.91" fill="#e8a810"/>
<rect x="840.4" y="135.06" width="8.0" height="3.91" fill="#ebb516"/>
<rect x="840.4" y="138.67" width="8.0" height="3.91" fill="#eec21d"/>
<rect x="840.4" y="142.28" width="8.0" height="3.91" fill="#f0cd23"/>
<rect x="840.4" y="145.89" width="8.0" height="3.91" fill="#f0d62a"/>
<rect x="840.4" y="149.50" width="8.0" height="3.91" fill="#f0e030"/>
<rect x="840.4" y="153.11" width="8.0" height="3.91" fill="#cbd840"/>
<rect x="840.4" y="156.72" width="8.0" height="3.91" fill="#a5cd4c"/>
<rect x="840.4" y="160.33" width="8.0" height="3.91" fill="#80c054"/>
<rect x="840.4" y="163.94" width="8.0" height="3.91" fill="#55b35f"/>
<rect x="840.4" y="167.55" width="8.0" height="3.91" fill="#30a865"/>
<rect x="840.4" y="171.16" width="8.0" height="3.91" fill="#10a068"/>
<rect x="840.4" y="174.77" width="8.0" height="3.91" fill="#0c9874"/>
<rect x="840.4" y="178.38" width="8.0" height="3.91" fill="#089080"/>
<rect x="840.4" y="181.99" width="8.0" height="3.91" fill="#088890"/>
<rect x="840.4" y="185.60" width="8.0" height="3.91" fill="#0880a0"/>
<rect x="840.4" y="189.21" width="8.0" height="3.91" fill="#0c78a8"/>
<rect x="840.4" y="192.82" width="8.0" height="3.91" fill="#1070b0"/>
<rect x="840.4" y="196.43" width="8.0" height="3.91" fill="#1878b8"/>
<rect x="840.4" y="200.04" width="8.0" height="3.91" fill="#2080c0"/>
<rect x="840.4" y="203.65" width="8.0" height="3.91" fill="#2888c8"/>
<rect x="840.4" y="207.26" width="8.0" height="3.91" fill="#3692ce"/>
<rect x="840.4" y="210.87" width="8.0" height="3.91" fill="#459bd5"/>
<rect x="840.4" y="214.48" width="8.0" height="3.91" fill="#50a2d8"/>
<rect x="840.4" y="218.09" width="8.0" height="3.91" fill="#58a5d8"/>
<rect x="840.4" y="221.70" width="8.0" height="3.91" fill="#60a8d8"/>
<rect x="840.4" y="225.31" width="8.0" height="3.91" fill="#6fa5cb"/>
<rect x="840.4" y="228.92" width="8.0" height="3.91" fill="#7da3bd"/>
<rect x="840.4" y="232.53" width="8.0" height="3.91" fill="#8ca0b0"/>
<rect x="840.4" y="236.14" width="8.0" height="3.91" fill="#949ea6"/>
<rect x="840.4" y="239.75" width="8.0" height="3.91" fill="#9c9c9c"/>
<rect x="840.4" y="243.36" width="8.0" height="3.91" fill="#acacac"/>
<rect x="840.4" y="246.97" width="8.0" height="3.91" fill="#bcbcbc"/>
<rect x="840.4" y="250.58" width="8.0" height="3.91" fill="#cbcbcb"/>
<rect x="840.4" y="254.19" width="8.0" height="3.91" fill="#d8d8d8"/>
<rect x="840.4" y="257.80" width="8.0" height="3.91" fill="#e6e6e6"/>
</g>
<path d="M840.4 261.4 L840.4 41.2 L848.4 41.2 M840.4 261.4 L848.4 261.4" fill="none" stroke="#888" stroke-width="1"/>
<path d="M848.4 41.2 L848.4 261.4" fill="none" stroke="#222" stroke-width="1"/>
<line x1="848.4" y1="259.6" x2="854.7" y2="259.6" stroke="#000"/>
<text x="860" y="263.8" font-size="10">0</text>
<line x1="848.4" y1="241.6" x2="854.7" y2="241.6" stroke="#000"/>
<text x="860" y="245.8" font-size="10">10</text>
<line x1="848.4" y1="223.5" x2="854.7" y2="223.5" stroke="#000"/>
<text x="860" y="227.7" font-size="10">20</text>
<line x1="848.4" y1="205.5" x2="854.7" y2="205.5" stroke="#000"/>
<text x="860" y="209.7" font-size="10">30</text>
<line x1="848.4" y1="187.4" x2="854.7" y2="187.4" stroke="#000"/>
<text x="860" y="191.6" font-size="10">40</text>
<line x1="848.4" y1="169.4" x2="854.7" y2="169.4" stroke="#000"/>
<text x="860" y="173.6" font-size="10">50</text>
<line x1="848.4" y1="151.3" x2="854.7" y2="151.3" stroke="#000"/>
<text x="860" y="155.5" font-size="10">60</text>
<line x1="848.4" y1="133.2" x2="854.7" y2="133.2" stroke="#000"/>
<text x="860" y="137.4" font-size="10">70</text>
<line x1="848.4" y1="115.2" x2="854.7" y2="115.2" stroke="#000"/>
<text x="860" y="119.4" font-size="10">80</text>
<line x1="848.4" y1="97.2" x2="854.7" y2="97.2" stroke="#000"/>
<text x="860" y="101.4" font-size="10">90</text>
<line x1="848.4" y1="79.1" x2="854.7" y2="79.1" stroke="#000"/>
<text x="860" y="83.3" font-size="10">100</text>
<line x1="848.4" y1="61.1" x2="854.7" y2="61.1" stroke="#000"/>
<text x="860" y="65.3" font-size="10">110</text>
<line x1="848.4" y1="43.0" x2="854.7" y2="43.0" stroke="#000"/>
<text x="860" y="47.2" font-size="10">120</text>
<text x="830" y="38.8" font-size="12.4">ppbV</text>
<g shape-rendering="crispEdges">
<rect x="390.4" y="393.85" width="8.0" height="3.40" fill="#ff0000"/>
<rect x="390.4" y="396.95" width="8.0" height="3.40" fill="#fd060b"/>
<rect x="390.4" y="400.05" width="8.0" height="3.40" fill="#fb0b17"/>
<rect x="390.4" y="403.15" width="8.0" height="3.40" fill="#f91222"/>
<rect x="390.4" y="406.25" width="8.0" height="3.40" fill="#f41a2e"/>
<rect x="390.4" y="409.35" width="8.0" height="3.40" fill="#f02339"/>
<rect x="390.4" y="412.45" width="8.0" height="3.40" fill="#eb2b45"/>
<rect x="390.4" y="415.55" width="8.0" height="3.40" fill="#e63450"/>
<rect x="390.4" y="418.65" width="8.0" height="3.40" fill="#e23d5b"/>
<rect x="390.4" y="421.75" width="8.0" height="3.40" fill="#de4667"/>
<rect x="390.4" y="424.85" width="8.0" height="3.40" fill="#da4f73"/>
<rect x="390.4" y="427.95" width="8.0" height="3.40" fill="#d6587f"/>
<rect x="390.4" y="431.05" width="8.0" height="3.40" fill="#d1628c"/>
<rect x="390.4" y="434.15" width="8.0" height="3.40" fill="#cd6b98"/>
<rect x="390.4" y="437.25" width="8.0" height="3.40" fill="#c975a4"/>
<rect x="390.4" y="440.35" width="8.0" height="3.40" fill="#c9779c"/>
<rect x="390.4" y="443.45" width="8.0" height="3.40" fill="#ca7589"/>
<rect x="390.4" y="446.55" width="8.0" height="3.40" fill="#cb7276"/>
<rect x="390.4" y="449.65" width="8.0" height="3.40" fill="#cc7064"/>
<rect x="390.4" y="452.75" width="8.0" height="3.40" fill="#cd6e59"/>
<rect x="390.4" y="455.85" width="8.0" height="3.40" fill="#ce6c50"/>
<rect x="390.4" y="458.95" width="8.0" height="3.40" fill="#cf6a46"/>
<rect x="390.4" y="462.05" width="8.0" height="3.40" fill="#d0683d"/>
<rect x="390.4" y="465.15" width="8.0" height="3.40" fill="#d26633"/>
<rect x="390.4" y="468.25" width="8.0" height="3.40" fill="#d36529"/>
<rect x="390.4" y="471.35" width="8.0" height="3.40" fill="#d4641e"/>
<rect x="390.4" y="474.45" width="8.0" height="3.40" fill="#d56314"/>
<rect x="390.4" y="477.55" width="8.0" height="3.40" fill="#d7610a"/>
<rect x="390.4" y="480.65" width="8.0" height="3.40" fill="#d86000"/>
<rect x="390.4" y="483.75" width="8.0" height="3.40" fill="#d96501"/>
<rect x="390.4" y="486.85" width="8.0" height="3.40" fill="#db6b01"/>
<rect x="390.4" y="489.95" width="8.0" height="3.40" fill="#dc7002"/>
<rect x="390.4" y="493.05" width="8.0" height="3.40" fill="#dd7603"/>
<rect x="390.4" y="496.15" width="8.0" height="3.40" fill="#df7b03"/>
<rect x="390.4" y="499.25" width="8.0" height="3.40" fill="#e08004"/>
<rect x="390.4" y="502.35" width="8.0" height="3.40" fill="#e18605"/>
<rect x="390.4" y="505.45" width="8.0" height="3.40" fill="#e38b05"/>
<rect x="390.4" y="508.55" width="8.0" height="3.40" fill="#e49006"/>
<rect x="390.4" y="511.65" width="8.0" height="3.40" fill="#e59607"/>
<rect x="390.4" y="514.75" width="8.0" height="3.40" fill="#e79b07"/>
<rect x="390.4" y="517.85" width="8.0" height="3.40" fill="#e8a008"/>
<rect x="390.4" y="520.95" width="8.0" height="3.40" fill="#e9a40b"/>
<rect x="390.4" y="524.05" width="8.0" height="3.40" fill="#eaa70e"/>
<rect x="390.4" y="527.15" width="8.0" height="3.40" fill="#ebab10"/>
<rect x="390.4" y="530.25" width="8.0" height="3.40" fill="#ecae13"/>
<rect x="390.4" y="533.35" width="8.0" height="3.40" fill="#ecb215"/>
<rect x="390.4" y="536.45" width="8.0" height="3.40" fill="#edb518"/>
<rect x="390.4" y="539.55" width="8.0" height="3.40" fill="#eeb91b"/>
<rect x="390.4" y="542.65" width="8.0" height="3.40" fill="#efbc1d"/>
<rect x="390.4" y="545.75" width="8.0" height="3.40" fill="#f0c020"/>
<rect x="390.4" y="548.85" width="8.0" height="3.40" fill="#f0c422"/>
<rect x="390.4" y="551.95" width="8.0" height="3.40" fill="#f0c824"/>
<rect x="390.4" y="555.05" width="8.0" height="3.40" fill="#f0cb26"/>
<rect x="390.4" y="558.15" width="8.0" height="3.40" fill="#f0cf28"/>
<rect x="390.4" y="561.25" width="8.0" height="3.40" fill="#f0d32a"/>
<rect x="390.4" y="564.35" width="8.0" height="3.40" fill="#f0d72b"/>
<rect x="390.4" y="567.45" width="8.0" height="3.40" fill="#f0db2d"/>
<rect x="390.4" y="570.55" width="8.0" height="3.40" fill="#f0de2f"/>
<rect x="390.4" y="573.65" width="8.0" height="3.40" fill="#f0e039"/>
<rect x="390.4" y="576.75" width="8.0" height="3.40" fill="#efe147"/>
<rect x="390.4" y="579.85" width="8.0" height="3.40" fill="#eee156"/>
<rect x="390.4" y="582.95" width="8.0" height="3.40" fill="#ede264"/>
<rect x="390.4" y="586.05" width="8.0" height="3.40" fill="#ece272"/>
<rect x="390.4" y="589.15" width="8.0" height="3.40" fill="#ece381"/>
<rect x="390.4" y="592.25" width="8.0" height="3.40" fill="#ebe38f"/>
<rect x="390.4" y="595.35" width="8.0" height="3.40" fill="#eae49e"/>
<rect x="390.4" y="598.45" width="8.0" height="3.40" fill="#e9e4ac"/>
<rect x="390.4" y="601.55" width="8.0" height="3.40" fill="#e8e5bb"/>
<rect x="390.4" y="604.65" width="8.0" height="3.40" fill="#e8e5c9"/>
<rect x="390.4" y="607.75" width="8.0" height="3.40" fill="#e7e6d8"/>
<rect x="390.4" y="610.85" width="8.0" height="3.40" fill="#e6e6e6"/>
</g>
<path d="M390.4 614.0 L390.4 393.9 L398.4 393.9 M390.4 614.0 L398.4 614.0" fill="none" stroke="#888" stroke-width="1"/>
<path d="M398.4 393.9 L398.4 614.0" fill="none" stroke="#222" stroke-width="1"/>
<line x1="398.4" y1="612.4" x2="404.7" y2="612.4" stroke="#000"/>
<text x="410" y="616.6" font-size="10">0</text>
<line x1="398.4" y1="581.4" x2="404.7" y2="581.4" stroke="#000"/>
<text x="410" y="585.6" font-size="10">5</text>
<line x1="398.4" y1="550.4" x2="404.7" y2="550.4" stroke="#000"/>
<text x="410" y="554.6" font-size="10">10</text>
<line x1="398.4" y1="519.4" x2="404.7" y2="519.4" stroke="#000"/>
<text x="410" y="523.6" font-size="10">15</text>
<line x1="398.4" y1="488.4" x2="404.7" y2="488.4" stroke="#000"/>
<text x="410" y="492.6" font-size="10">20</text>
<line x1="398.4" y1="457.4" x2="404.7" y2="457.4" stroke="#000"/>
<text x="410" y="461.6" font-size="10">25</text>
<line x1="398.4" y1="426.4" x2="404.7" y2="426.4" stroke="#000"/>
<text x="410" y="430.6" font-size="10">30</text>
<line x1="398.4" y1="395.4" x2="404.7" y2="395.4" stroke="#000"/>
<text x="410" y="399.6" font-size="10">35</text>
<text x="380" y="391.2" font-size="12.4">ppbV</text>
<g shape-rendering="crispEdges">
<rect x="840.4" y="393.84" width="8.0" height="4.63" fill="#ff0000"/>
<rect x="840.4" y="398.16" width="8.0" height="4.63" fill="#fc0810"/>
<rect x="840.4" y="402.49" width="8.0" height="4.63" fill="#fa1020"/>
<rect x="840.4" y="406.81" width="8.0" height="4.63" fill="#f41c30"/>
<rect x="840.4" y="411.14" width="8.0" height="4.63" fill="#ed2840"/>
<rect x="840.4" y="415.47" width="8.0" height="4.63" fill="#e63450"/>
<rect x="840.4" y="419.79" width="8.0" height="4.63" fill="#e04060"/>
<rect x="840.4" y="424.12" width="8.0" height="4.63" fill="#da4d71"/>
<rect x="840.4" y="428.44" width="8.0" height="4.63" fill="#d55a82"/>
<rect x="840.4" y="432.77" width="8.0" height="4.63" fill="#cf6893"/>
<rect x="840.4" y="437.10" width="8.0" height="4.63" fill="#c975a4"/>
<rect x="840.4" y="441.42" width="8.0" height="4.63" fill="#c97694"/>
<rect x="840.4" y="445.75" width="8.0" height="4.63" fill="#cb737a"/>
<rect x="840.4" y="450.07" width="8.0" height="4.63" fill="#cc7060"/>
<rect x="840.4" y="454.40" width="8.0" height="4.63" fill="#ce6d53"/>
<rect x="840.4" y="458.73" width="8.0" height="4.63" fill="#cf6a46"/>
<rect x="840.4" y="463.05" width="8.0" height="4.63" fill="#d16739"/>
<rect x="840.4" y="467.38" width="8.0" height="4.63" fill="#d3652b"/>
<rect x="840.4" y="471.70" width="8.0" height="4.63" fill="#d4641c"/>
<rect x="840.4" y="476.03" width="8.0" height="4.63" fill="#d6620e"/>
<rect x="840.4" y="480.36" width="8.0" height="4.63" fill="#d86000"/>
<rect x="840.4" y="484.68" width="8.0" height="4.63" fill="#da6801"/>
<rect x="840.4" y="489.01" width="8.0" height="4.63" fill="#dc6f02"/>
<rect x="840.4" y="493.34" width="8.0" height="4.63" fill="#de7703"/>
<rect x="840.4" y="497.66" width="8.0" height="4.63" fill="#e07e04"/>
<rect x="840.4" y="501.99" width="8.0" height="4.63" fill="#e18605"/>
<rect x="840.4" y="506.31" width="8.0" height="4.63" fill="#e38d06"/>
<rect x="840.4" y="510.64" width="8.0" height="4.63" fill="#e59507"/>
<rect x="840.4" y="514.97" width="8.0" height="4.63" fill="#e79c08"/>
<rect x="840.4" y="519.29" width="8.0" height="4.63" fill="#e9a20a"/>
<rect x="840.4" y="523.62" width="8.0" height="4.63" fill="#eaa70e"/>
<rect x="840.4" y="527.94" width="8.0" height="4.63" fill="#ebac11"/>
<rect x="840.4" y="532.27" width="8.0" height="4.63" fill="#ecb115"/>
<rect x="840.4" y="536.60" width="8.0" height="4.63" fill="#eeb619"/>
<rect x="840.4" y="540.92" width="8.0" height="4.63" fill="#efbb1c"/>
<rect x="840.4" y="545.25" width="8.0" height="4.63" fill="#f0c020"/>
<rect x="840.4" y="549.57" width="8.0" height="4.63" fill="#f0c523"/>
<rect x="840.4" y="553.90" width="8.0" height="4.63" fill="#f0cb25"/>
<rect x="840.4" y="558.23" width="8.0" height="4.63" fill="#f0d028"/>
<rect x="840.4" y="562.55" width="8.0" height="4.63" fill="#f0d52b"/>
<rect x="840.4" y="566.88" width="8.0" height="4.63" fill="#f0db2d"/>
<rect x="840.4" y="571.20" width="8.0" height="4.63" fill="#f0e030"/>
<rect x="840.4" y="575.53" width="8.0" height="4.63" fill="#efe144"/>
<rect x="840.4" y="579.86" width="8.0" height="4.63" fill="#eee158"/>
<rect x="840.4" y="584.18" width="8.0" height="4.63" fill="#ede26d"/>
<rect x="840.4" y="588.51" width="8.0" height="4.63" fill="#ece381"/>
<rect x="840.4" y="592.83" width="8.0" height="4.63" fill="#eae395"/>
<rect x="840.4" y="597.16" width="8.0" height="4.63" fill="#e9e4a9"/>
<rect x="840.4" y="601.49" width="8.0" height="4.63" fill="#e8e5be"/>
<rect x="840.4" y="605.81" width="8.0" height="4.63" fill="#e7e5d2"/>
<rect x="840.4" y="610.14" width="8.0" height="4.63" fill="#e6e6e6"/>
</g>
<path d="M840.4 614.5 L840.4 393.8 L848.4 393.8 M840.4 614.5 L848.4 614.5" fill="none" stroke="#888" stroke-width="1"/>
<path d="M848.4 393.8 L848.4 614.5" fill="none" stroke="#222" stroke-width="1"/>
<line x1="848.4" y1="612.3" x2="854.7" y2="612.3" stroke="#000"/>
<text x="860" y="616.5" font-size="10">0</text>
<line x1="848.4" y1="590.7" x2="854.7" y2="590.7" stroke="#000"/>
<text x="860" y="594.9" font-size="10">10</text>
<line x1="848.4" y1="569.0" x2="854.7" y2="569.0" stroke="#000"/>
<text x="860" y="573.2" font-size="10">20</text>
<line x1="848.4" y1="547.4" x2="854.7" y2="547.4" stroke="#000"/>
<text x="860" y="551.6" font-size="10">30</text>
<line x1="848.4" y1="525.8" x2="854.7" y2="525.8" stroke="#000"/>
<text x="860" y="530.0" font-size="10">40</text>
<line x1="848.4" y1="504.1" x2="854.7" y2="504.1" stroke="#000"/>
<text x="860" y="508.3" font-size="10">50</text>
<line x1="848.4" y1="482.5" x2="854.7" y2="482.5" stroke="#000"/>
<text x="860" y="486.7" font-size="10">60</text>
<line x1="848.4" y1="460.9" x2="854.7" y2="460.9" stroke="#000"/>
<text x="860" y="465.1" font-size="10">70</text>
<line x1="848.4" y1="439.3" x2="854.7" y2="439.3" stroke="#000"/>
<text x="860" y="443.5" font-size="10">80</text>
<line x1="848.4" y1="417.6" x2="854.7" y2="417.6" stroke="#000"/>
<text x="860" y="421.8" font-size="10">90</text>
<line x1="848.4" y1="396.0" x2="854.7" y2="396.0" stroke="#000"/>
<text x="860" y="400.2" font-size="10">100</text>
<text x="839.2" y="391.8" font-size="12.4">%</text>
<text x="184.4" y="312.5" text-anchor="middle" font-size="12.2">Domain size: 37x47 | Max = 56 at (1, 11)</text><text x="184.5" y="325" text-anchor="middle" font-size="12.2" xml:space="preserve">Mean: 46 |  Median: 45</text>
<text x="634.4" y="312.5" text-anchor="middle" font-size="12.2">Domain size: 37x47 | Max = 56 at (10, 3)</text><text x="634.5" y="325" text-anchor="middle" font-size="12.2" xml:space="preserve">Mean: 46 |  Median: 45</text>
<text x="184.4" y="665.5" text-anchor="middle" font-size="12.2">Min = -1.37 | Max = 2.83</text><text x="184.5" y="678" text-anchor="middle" font-size="12.2" xml:space="preserve">Mean: -0.0142 |  Median: -0.01</text>
<text x="634.4" y="665.5" text-anchor="middle" font-size="12.2">Min = -2.6 | Max = 5.2</text><text x="634.5" y="678" text-anchor="middle" font-size="12.2" xml:space="preserve">Mean: 0 |  Median: 0</text>
<g transform="translate(0,0)" clip-path="url(#cp)"><use href="#mp"/></g>
<g transform="translate(450,0)" clip-path="url(#cp)"><use href="#mp"/></g>
<g transform="translate(0,353)" clip-path="url(#cp)"><use href="#mp"/></g>
<g transform="translate(450,353)" clip-path="url(#cp)"><use href="#mp"/></g>
</svg>
</body></html>
